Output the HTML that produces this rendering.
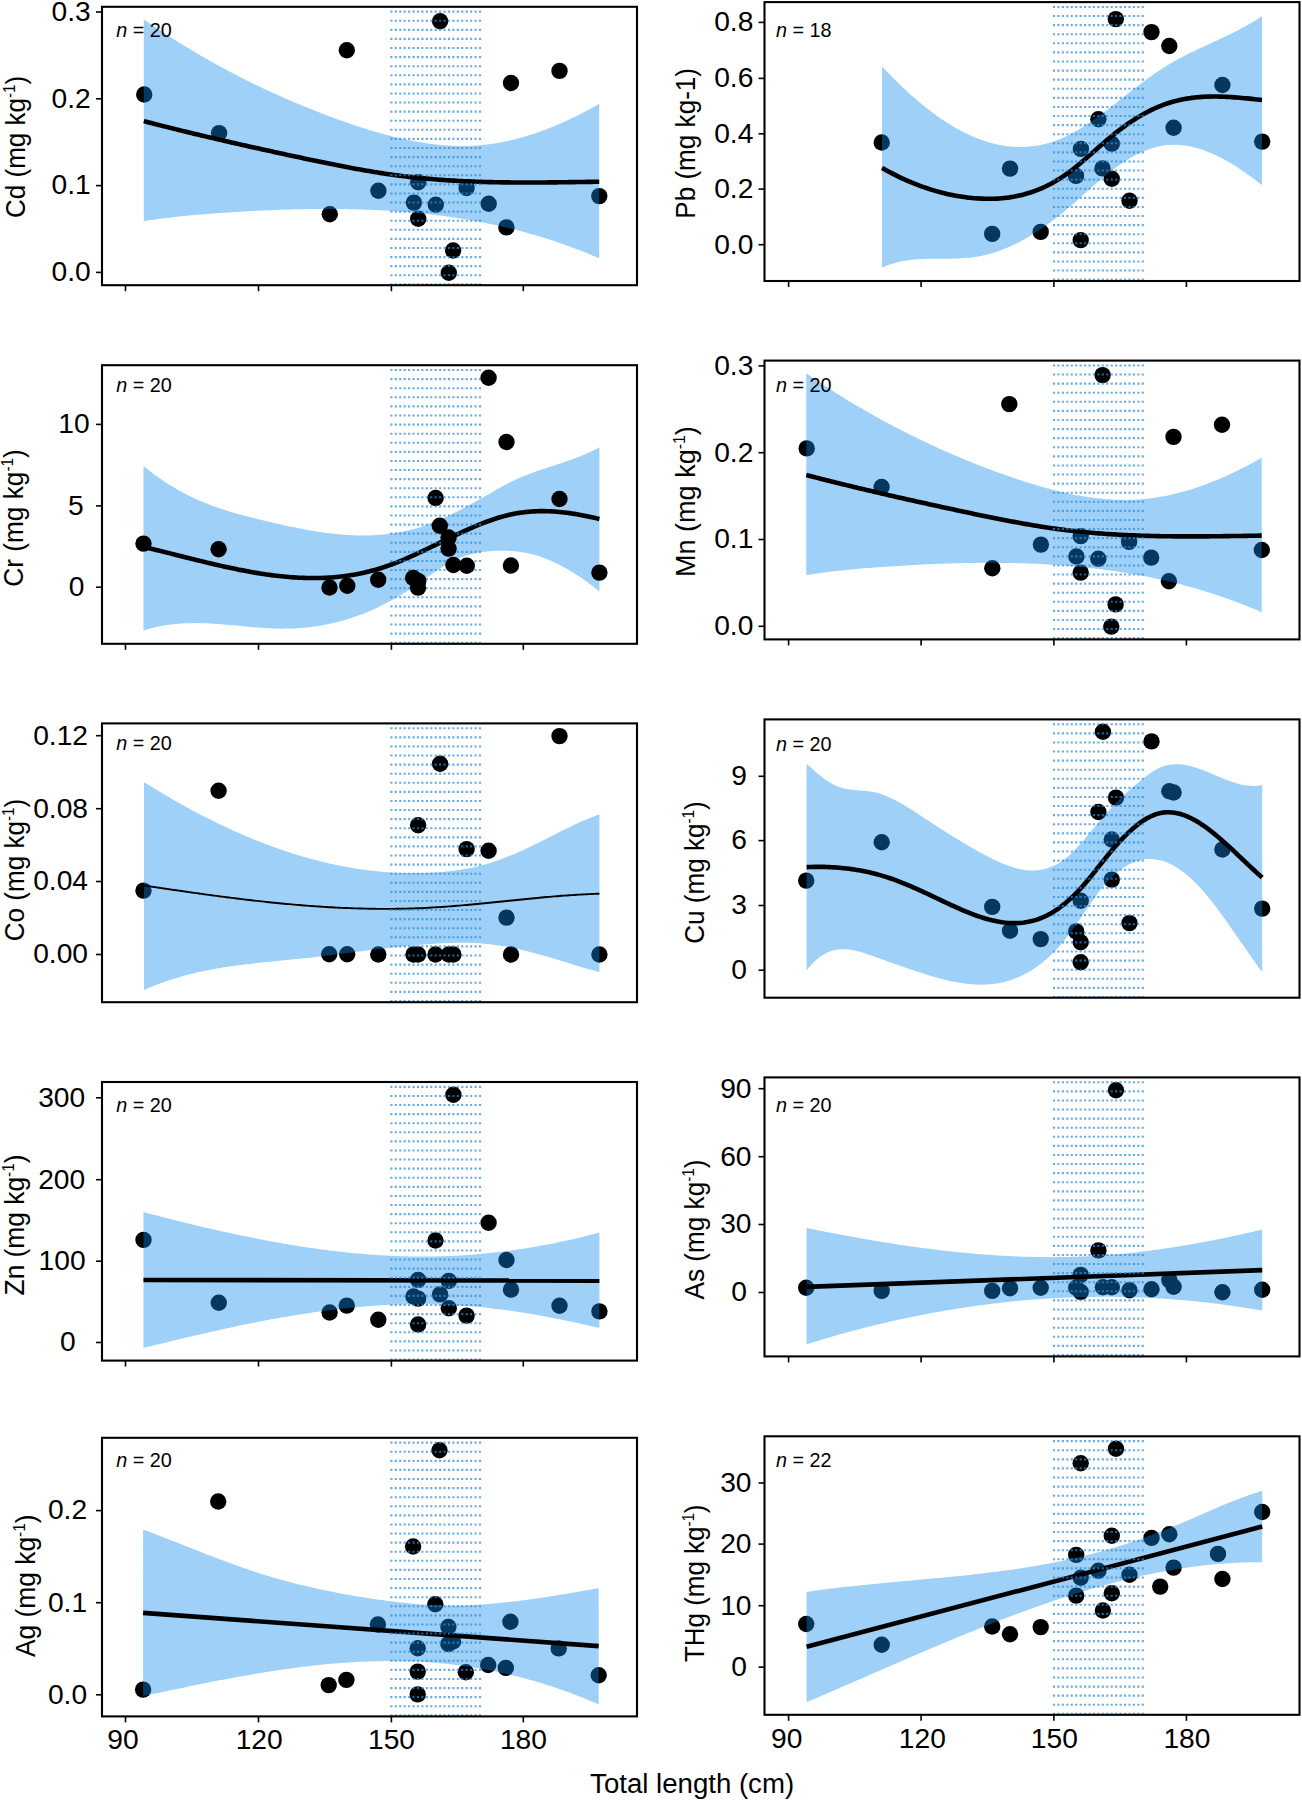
<!DOCTYPE html>
<html><head><meta charset="utf-8"><title>Metal concentrations vs total length</title>
<style>html,body{margin:0;padding:0;background:#fff;}svg{display:block;}text{font-family:'Liberation Sans', sans-serif;fill:#000;}</style></head><body>
<svg width="1302" height="1801" viewBox="0 0 1302 1801">
<rect width="1302" height="1801" fill="#fff"/>
<g>
<clipPath id="cCd"><rect x="102.00" y="5.60" width="535.00" height="280.80"/></clipPath>
<g clip-path="url(#cCd)">
<g fill="#000"><circle cx="144.20" cy="94.50" r="8.20"/><circle cx="219.10" cy="133.10" r="8.20"/><circle cx="346.80" cy="50.20" r="8.20"/><circle cx="329.80" cy="214.30" r="8.20"/><circle cx="378.40" cy="190.70" r="8.20"/><circle cx="418.20" cy="182.20" r="8.20"/><circle cx="413.90" cy="202.60" r="8.20"/><circle cx="435.80" cy="204.80" r="8.20"/><circle cx="418.20" cy="218.70" r="8.20"/><circle cx="440.10" cy="21.20" r="8.20"/><circle cx="466.60" cy="188.00" r="8.20"/><circle cx="488.70" cy="203.70" r="8.20"/><circle cx="453.10" cy="250.50" r="8.20"/><circle cx="448.80" cy="272.70" r="8.20"/><circle cx="511.00" cy="83.00" r="8.20"/><circle cx="506.40" cy="227.40" r="8.20"/><circle cx="559.50" cy="70.90" r="8.20"/><circle cx="599.30" cy="196.10" r="8.20"/></g>
<path d="M143.80,19.41 L146.30,21.13 L148.80,22.84 L151.31,24.54 L153.81,26.23 L156.31,27.90 L158.81,29.56 L161.32,31.21 L163.82,32.84 L166.32,34.47 L168.82,36.08 L171.32,37.67 L173.83,39.26 L176.33,40.83 L178.83,42.40 L181.33,43.95 L183.84,45.48 L186.34,47.01 L188.84,48.52 L191.34,50.03 L193.84,51.52 L196.35,53.00 L198.85,54.46 L201.35,55.92 L203.85,57.36 L206.35,58.80 L208.86,60.22 L211.36,61.63 L213.86,63.03 L216.36,64.41 L218.87,65.79 L221.37,67.16 L223.87,68.51 L226.37,69.85 L228.87,71.19 L231.38,72.51 L233.88,73.82 L236.38,75.12 L238.88,76.41 L241.39,77.69 L243.89,78.95 L246.39,80.21 L248.89,81.46 L251.39,82.69 L253.90,83.92 L256.40,85.13 L258.90,86.34 L261.40,87.53 L263.91,88.72 L266.41,89.89 L268.91,91.06 L271.41,92.21 L273.91,93.36 L276.42,94.49 L278.92,95.62 L281.42,96.73 L283.92,97.84 L286.43,98.93 L288.93,100.02 L291.43,101.09 L293.93,102.16 L296.43,103.22 L298.94,104.27 L301.44,105.30 L303.94,106.33 L306.44,107.35 L308.95,108.36 L311.45,109.37 L313.95,110.36 L316.45,111.34 L318.95,112.32 L321.46,113.28 L323.96,114.24 L326.46,115.19 L328.96,116.13 L331.46,117.06 L333.97,117.98 L336.47,118.89 L338.97,119.80 L341.47,120.69 L343.98,121.58 L346.48,122.46 L348.98,123.33 L351.48,124.19 L353.98,125.04 L356.49,125.88 L358.99,126.70 L361.49,127.52 L363.99,128.32 L366.50,129.11 L369.00,129.89 L371.50,130.66 L374.00,131.41 L376.50,132.15 L379.01,132.87 L381.51,133.58 L384.01,134.27 L386.51,134.95 L389.02,135.61 L391.52,136.26 L394.02,136.88 L396.52,137.50 L399.02,138.09 L401.53,138.66 L404.03,139.22 L406.53,139.76 L409.03,140.28 L411.54,140.78 L414.04,141.26 L416.54,141.71 L419.04,142.15 L421.54,142.57 L424.05,142.96 L426.55,143.33 L429.05,143.68 L431.55,144.01 L434.05,144.31 L436.56,144.59 L439.06,144.85 L441.56,145.08 L444.06,145.29 L446.57,145.47 L449.07,145.62 L451.57,145.75 L454.07,145.85 L456.57,145.92 L459.08,145.97 L461.58,145.99 L464.08,145.98 L466.58,145.94 L469.09,145.88 L471.59,145.78 L474.09,145.66 L476.59,145.50 L479.09,145.31 L481.60,145.09 L484.10,144.84 L486.60,144.56 L489.10,144.25 L491.61,143.91 L494.11,143.54 L496.61,143.14 L499.11,142.70 L501.61,142.24 L504.12,141.75 L506.62,141.23 L509.12,140.69 L511.62,140.11 L514.13,139.50 L516.63,138.87 L519.13,138.21 L521.63,137.52 L524.13,136.80 L526.64,136.06 L529.14,135.29 L531.64,134.50 L534.14,133.67 L536.65,132.83 L539.15,131.95 L541.65,131.05 L544.15,130.13 L546.65,129.18 L549.16,128.20 L551.66,127.20 L554.16,126.18 L556.66,125.13 L559.16,124.06 L561.67,122.96 L564.17,121.84 L566.67,120.70 L569.17,119.54 L571.68,118.35 L574.18,117.14 L576.68,115.91 L579.18,114.65 L581.68,113.38 L584.19,112.08 L586.69,110.77 L589.19,109.43 L591.69,108.07 L594.20,106.69 L596.70,105.29 L599.20,103.87 L599.20,258.34 L596.70,257.26 L594.20,256.19 L591.69,255.13 L589.19,254.10 L586.69,253.07 L584.19,252.07 L581.68,251.07 L579.18,250.09 L576.68,249.13 L574.18,248.18 L571.68,247.24 L569.17,246.32 L566.67,245.41 L564.17,244.52 L561.67,243.64 L559.16,242.77 L556.66,241.92 L554.16,241.08 L551.66,240.26 L549.16,239.45 L546.65,238.65 L544.15,237.86 L541.65,237.09 L539.15,236.33 L536.65,235.59 L534.14,234.85 L531.64,234.13 L529.14,233.42 L526.64,232.73 L524.13,232.04 L521.63,231.37 L519.13,230.71 L516.63,230.07 L514.13,229.43 L511.62,228.81 L509.12,228.20 L506.62,227.60 L504.12,227.01 L501.61,226.43 L499.11,225.87 L496.61,225.32 L494.11,224.77 L491.61,224.24 L489.10,223.72 L486.60,223.21 L484.10,222.71 L481.60,222.22 L479.09,221.75 L476.59,221.28 L474.09,220.82 L471.59,220.38 L469.09,219.94 L466.58,219.52 L464.08,219.10 L461.58,218.69 L459.08,218.30 L456.57,217.91 L454.07,217.53 L451.57,217.17 L449.07,216.81 L446.57,216.46 L444.06,216.12 L441.56,215.79 L439.06,215.47 L436.56,215.15 L434.05,214.85 L431.55,214.55 L429.05,214.27 L426.55,213.99 L424.05,213.72 L421.54,213.46 L419.04,213.20 L416.54,212.96 L414.04,212.72 L411.54,212.49 L409.03,212.27 L406.53,212.06 L404.03,211.85 L401.53,211.65 L399.02,211.46 L396.52,211.28 L394.02,211.10 L391.52,210.94 L389.02,210.78 L386.51,210.62 L384.01,210.47 L381.51,210.33 L379.01,210.20 L376.50,210.08 L374.00,209.96 L371.50,209.85 L369.00,209.74 L366.50,209.64 L363.99,209.55 L361.49,209.46 L358.99,209.38 L356.49,209.31 L353.98,209.25 L351.48,209.19 L348.98,209.13 L346.48,209.08 L343.98,209.04 L341.47,209.01 L338.97,208.98 L336.47,208.95 L333.97,208.93 L331.46,208.92 L328.96,208.91 L326.46,208.91 L323.96,208.91 L321.46,208.92 L318.95,208.94 L316.45,208.96 L313.95,208.98 L311.45,209.01 L308.95,209.05 L306.44,209.09 L303.94,209.13 L301.44,209.18 L298.94,209.24 L296.43,209.30 L293.93,209.36 L291.43,209.43 L288.93,209.50 L286.43,209.58 L283.92,209.66 L281.42,209.75 L278.92,209.84 L276.42,209.93 L273.91,210.03 L271.41,210.13 L268.91,210.24 L266.41,210.35 L263.91,210.46 L261.40,210.58 L258.90,210.70 L256.40,210.83 L253.90,210.95 L251.39,211.09 L248.89,211.22 L246.39,211.36 L243.89,211.50 L241.39,211.65 L238.88,211.79 L236.38,211.94 L233.88,212.10 L231.38,212.25 L228.87,212.41 L226.37,212.58 L223.87,212.74 L221.37,212.91 L218.87,213.09 L216.36,213.26 L213.86,213.44 L211.36,213.63 L208.86,213.82 L206.35,214.02 L203.85,214.22 L201.35,214.42 L198.85,214.63 L196.35,214.85 L193.84,215.07 L191.34,215.30 L188.84,215.54 L186.34,215.78 L183.84,216.03 L181.33,216.29 L178.83,216.55 L176.33,216.82 L173.83,217.10 L171.32,217.39 L168.82,217.68 L166.32,217.98 L163.82,218.30 L161.32,218.62 L158.81,218.95 L156.31,219.29 L153.81,219.63 L151.31,219.99 L148.80,220.36 L146.30,220.74 L143.80,221.13 Z" fill="rgb(13,138,238)" fill-opacity="0.400"/>
<path d="M143.80,121.14 L146.30,121.79 L148.80,122.43 L151.31,123.08 L153.81,123.72 L156.31,124.36 L158.81,125.00 L161.32,125.63 L163.82,126.26 L166.32,126.89 L168.82,127.52 L171.32,128.14 L173.83,128.76 L176.33,129.38 L178.83,130.00 L181.33,130.61 L183.84,131.22 L186.34,131.83 L188.84,132.44 L191.34,133.04 L193.84,133.64 L196.35,134.24 L198.85,134.84 L201.35,135.44 L203.85,136.03 L206.35,136.62 L208.86,137.21 L211.36,137.80 L213.86,138.38 L216.36,138.97 L218.87,139.55 L221.37,140.13 L223.87,140.71 L226.37,141.28 L228.87,141.86 L231.38,142.43 L233.88,143.00 L236.38,143.57 L238.88,144.13 L241.39,144.70 L243.89,145.26 L246.39,145.82 L248.89,146.39 L251.39,146.94 L253.90,147.50 L256.40,148.06 L258.90,148.61 L261.40,149.17 L263.91,149.72 L266.41,150.27 L268.91,150.82 L271.41,151.37 L273.91,151.92 L276.42,152.46 L278.92,153.01 L281.42,153.55 L283.92,154.09 L286.43,154.63 L288.93,155.17 L291.43,155.71 L293.93,156.25 L296.43,156.79 L298.94,157.33 L301.44,157.86 L303.94,158.39 L306.44,158.92 L308.95,159.45 L311.45,159.98 L313.95,160.50 L316.45,161.02 L318.95,161.54 L321.46,162.06 L323.96,162.57 L326.46,163.08 L328.96,163.59 L331.46,164.09 L333.97,164.59 L336.47,165.09 L338.97,165.58 L341.47,166.07 L343.98,166.55 L346.48,167.03 L348.98,167.50 L351.48,167.97 L353.98,168.44 L356.49,168.90 L358.99,169.35 L361.49,169.80 L363.99,170.24 L366.50,170.68 L369.00,171.10 L371.50,171.53 L374.00,171.94 L376.50,172.35 L379.01,172.75 L381.51,173.14 L384.01,173.52 L386.51,173.90 L389.02,174.26 L391.52,174.62 L394.02,174.97 L396.52,175.31 L399.02,175.63 L401.53,175.95 L404.03,176.26 L406.53,176.56 L409.03,176.85 L411.54,177.13 L414.04,177.41 L416.54,177.67 L419.04,177.93 L421.54,178.17 L424.05,178.41 L426.55,178.64 L429.05,178.86 L431.55,179.08 L434.05,179.28 L436.56,179.48 L439.06,179.67 L441.56,179.86 L444.06,180.03 L446.57,180.20 L449.07,180.36 L451.57,180.52 L454.07,180.66 L456.57,180.81 L459.08,180.94 L461.58,181.07 L464.08,181.19 L466.58,181.30 L469.09,181.41 L471.59,181.52 L474.09,181.61 L476.59,181.70 L479.09,181.79 L481.60,181.87 L484.10,181.94 L486.60,182.01 L489.10,182.08 L491.61,182.14 L494.11,182.19 L496.61,182.24 L499.11,182.29 L501.61,182.33 L504.12,182.36 L506.62,182.40 L509.12,182.42 L511.62,182.45 L514.13,182.47 L516.63,182.48 L519.13,182.50 L521.63,182.50 L524.13,182.51 L526.64,182.51 L529.14,182.51 L531.64,182.51 L534.14,182.50 L536.65,182.49 L539.15,182.48 L541.65,182.46 L544.15,182.45 L546.65,182.43 L549.16,182.41 L551.66,182.38 L554.16,182.36 L556.66,182.33 L559.16,182.30 L561.67,182.27 L564.17,182.24 L566.67,182.21 L569.17,182.17 L571.68,182.14 L574.18,182.10 L576.68,182.07 L579.18,182.03 L581.68,181.99 L584.19,181.95 L586.69,181.92 L589.19,181.88 L591.69,181.84 L594.20,181.80 L596.70,181.76 L599.20,181.72" fill="none" stroke="#000" stroke-width="4.60" stroke-linejoin="round"/>
<g stroke="rgb(40,140,225)" stroke-opacity="0.72" stroke-width="2.10" stroke-dasharray="2.10 2.33"><line x1="390.35" y1="11.65" x2="481.06" y2="11.65"/><line x1="390.35" y1="20.74" x2="481.06" y2="20.74"/><line x1="390.35" y1="29.83" x2="481.06" y2="29.83"/><line x1="390.35" y1="38.92" x2="481.06" y2="38.92"/><line x1="390.35" y1="48.01" x2="481.06" y2="48.01"/><line x1="390.35" y1="57.10" x2="481.06" y2="57.10"/><line x1="390.35" y1="66.19" x2="481.06" y2="66.19"/><line x1="390.35" y1="75.28" x2="481.06" y2="75.28"/><line x1="390.35" y1="84.37" x2="481.06" y2="84.37"/><line x1="390.35" y1="93.46" x2="481.06" y2="93.46"/><line x1="390.35" y1="102.55" x2="481.06" y2="102.55"/><line x1="390.35" y1="111.64" x2="481.06" y2="111.64"/><line x1="390.35" y1="120.73" x2="481.06" y2="120.73"/><line x1="390.35" y1="129.82" x2="481.06" y2="129.82"/><line x1="390.35" y1="138.91" x2="481.06" y2="138.91"/><line x1="390.35" y1="148.00" x2="481.06" y2="148.00"/><line x1="390.35" y1="157.09" x2="481.06" y2="157.09"/><line x1="390.35" y1="166.18" x2="481.06" y2="166.18"/><line x1="390.35" y1="175.27" x2="481.06" y2="175.27"/><line x1="390.35" y1="184.36" x2="481.06" y2="184.36"/><line x1="390.35" y1="193.45" x2="481.06" y2="193.45"/><line x1="390.35" y1="202.54" x2="481.06" y2="202.54"/><line x1="390.35" y1="211.63" x2="481.06" y2="211.63"/><line x1="390.35" y1="220.72" x2="481.06" y2="220.72"/><line x1="390.35" y1="229.81" x2="481.06" y2="229.81"/><line x1="390.35" y1="238.90" x2="481.06" y2="238.90"/><line x1="390.35" y1="247.99" x2="481.06" y2="247.99"/><line x1="390.35" y1="257.08" x2="481.06" y2="257.08"/><line x1="390.35" y1="266.17" x2="481.06" y2="266.17"/><line x1="390.35" y1="275.26" x2="481.06" y2="275.26"/><line x1="390.35" y1="284.35" x2="481.06" y2="284.35"/></g>
</g>
<rect x="102.00" y="6.80" width="535.00" height="278.40" fill="none" stroke="#000" stroke-width="2.10"/>
<g stroke="#000" stroke-width="1.6"><line x1="96.00" y1="12.00" x2="102.00" y2="12.00"/><line x1="96.00" y1="98.80" x2="102.00" y2="98.80"/><line x1="96.00" y1="185.60" x2="102.00" y2="185.60"/><line x1="96.00" y1="272.40" x2="102.00" y2="272.40"/><line x1="125.50" y1="285.20" x2="125.50" y2="291.20"/><line x1="258.50" y1="285.20" x2="258.50" y2="291.20"/><line x1="391.40" y1="285.20" x2="391.40" y2="291.20"/><line x1="523.30" y1="285.20" x2="523.30" y2="291.20"/></g>
<text x="71.20" y="20.80" font-size="28.20" text-anchor="middle">0.3</text>
<text x="71.20" y="107.60" font-size="28.20" text-anchor="middle">0.2</text>
<text x="71.20" y="194.40" font-size="28.20" text-anchor="middle">0.1</text>
<text x="71.20" y="281.20" font-size="28.20" text-anchor="middle">0.0</text>
<text transform="translate(25.00,146.95) rotate(-90)" x="0" y="0" font-size="27.00" text-anchor="middle" textLength="142.0" lengthAdjust="spacingAndGlyphs">Cd (mg kg<tspan font-size="15.7" dy="-10">-1</tspan><tspan dy="10">)</tspan></text>
<text x="116.20" y="36.90" font-size="19.80"><tspan font-style="italic">n</tspan> = 20</text>
</g>
<g>
<clipPath id="cPb"><rect x="764.50" y="0.90" width="535.00" height="281.30"/></clipPath>
<g clip-path="url(#cPb)">
<g fill="#000"><circle cx="881.70" cy="142.50" r="8.20"/><circle cx="1010.00" cy="168.60" r="8.20"/><circle cx="992.20" cy="233.90" r="8.20"/><circle cx="1040.70" cy="231.90" r="8.20"/><circle cx="1080.70" cy="240.10" r="8.20"/><circle cx="1080.90" cy="148.90" r="8.20"/><circle cx="1076.00" cy="175.90" r="8.20"/><circle cx="1098.40" cy="119.20" r="8.20"/><circle cx="1111.80" cy="143.70" r="8.20"/><circle cx="1102.50" cy="168.40" r="8.20"/><circle cx="1111.80" cy="178.80" r="8.20"/><circle cx="1115.80" cy="19.10" r="8.20"/><circle cx="1129.50" cy="200.70" r="8.20"/><circle cx="1151.50" cy="32.10" r="8.20"/><circle cx="1169.30" cy="46.00" r="8.20"/><circle cx="1173.60" cy="127.70" r="8.20"/><circle cx="1222.40" cy="85.00" r="8.20"/><circle cx="1262.20" cy="141.60" r="8.20"/></g>
<path d="M882.00,66.44 L884.50,69.10 L887.00,71.72 L889.50,74.31 L892.00,76.86 L894.50,79.38 L897.00,81.85 L899.50,84.29 L902.00,86.69 L904.50,89.04 L907.00,91.36 L909.50,93.64 L912.00,95.88 L914.50,98.08 L917.00,100.23 L919.50,102.34 L922.00,104.41 L924.50,106.44 L927.00,108.42 L929.50,110.36 L932.00,112.26 L934.50,114.11 L937.00,115.91 L939.50,117.67 L942.00,119.38 L944.50,121.05 L947.00,122.67 L949.50,124.24 L952.00,125.76 L954.50,127.24 L957.00,128.66 L959.50,130.04 L962.00,131.36 L964.50,132.64 L967.00,133.86 L969.50,135.03 L972.00,136.16 L974.50,137.23 L977.00,138.24 L979.50,139.21 L982.00,140.12 L984.50,140.97 L987.00,141.77 L989.50,142.52 L992.00,143.21 L994.50,143.85 L997.00,144.42 L999.50,144.95 L1002.00,145.41 L1004.50,145.82 L1007.00,146.17 L1009.50,146.46 L1012.00,146.69 L1014.50,146.86 L1017.00,146.97 L1019.50,147.02 L1022.00,147.01 L1024.50,146.94 L1027.00,146.81 L1029.50,146.62 L1032.00,146.36 L1034.50,146.04 L1037.00,145.65 L1039.50,145.20 L1042.00,144.69 L1044.50,144.11 L1047.00,143.47 L1049.50,142.76 L1052.00,141.98 L1054.50,141.14 L1057.00,140.23 L1059.50,139.25 L1062.00,138.21 L1064.50,137.09 L1067.00,135.91 L1069.50,134.66 L1072.00,133.35 L1074.50,131.97 L1077.00,130.54 L1079.50,129.05 L1082.00,127.51 L1084.50,125.92 L1087.00,124.29 L1089.50,122.61 L1092.00,120.90 L1094.50,119.14 L1097.00,117.35 L1099.50,115.53 L1102.00,113.69 L1104.50,111.82 L1107.00,109.92 L1109.50,108.01 L1112.00,106.08 L1114.50,104.14 L1117.00,102.18 L1119.50,100.22 L1122.00,98.26 L1124.50,96.29 L1127.00,94.33 L1129.50,92.37 L1132.00,90.42 L1134.50,88.48 L1137.00,86.56 L1139.50,84.65 L1142.00,82.76 L1144.50,80.89 L1147.00,79.05 L1149.50,77.24 L1152.00,75.45 L1154.50,73.71 L1157.00,72.00 L1159.50,70.33 L1162.00,68.71 L1164.50,67.13 L1167.00,65.59 L1169.50,64.10 L1172.00,62.64 L1174.50,61.22 L1177.00,59.84 L1179.50,58.49 L1182.00,57.16 L1184.50,55.87 L1187.00,54.60 L1189.50,53.35 L1192.00,52.12 L1194.50,50.91 L1197.00,49.72 L1199.50,48.53 L1202.00,47.36 L1204.50,46.20 L1207.00,45.04 L1209.50,43.88 L1212.00,42.73 L1214.50,41.58 L1217.00,40.42 L1219.50,39.25 L1222.00,38.08 L1224.50,36.90 L1227.00,35.70 L1229.50,34.49 L1232.00,33.26 L1234.50,32.01 L1237.00,30.73 L1239.50,29.43 L1242.00,28.11 L1244.50,26.75 L1247.00,25.36 L1249.50,23.94 L1252.00,22.48 L1254.50,20.98 L1257.00,19.44 L1259.50,17.86 L1262.00,16.23 L1262.00,185.16 L1259.50,183.20 L1257.00,181.27 L1254.50,179.37 L1252.00,177.50 L1249.50,175.67 L1247.00,173.88 L1244.50,172.12 L1242.00,170.41 L1239.50,168.73 L1237.00,167.10 L1234.50,165.51 L1232.00,163.97 L1229.50,162.47 L1227.00,161.03 L1224.50,159.63 L1222.00,158.29 L1219.50,157.00 L1217.00,155.77 L1214.50,154.59 L1212.00,153.47 L1209.50,152.41 L1207.00,151.41 L1204.50,150.48 L1202.00,149.61 L1199.50,148.81 L1197.00,148.07 L1194.50,147.40 L1192.00,146.81 L1189.50,146.29 L1187.00,145.84 L1184.50,145.47 L1182.00,145.17 L1179.50,144.96 L1177.00,144.82 L1174.50,144.77 L1172.00,144.80 L1169.50,144.91 L1167.00,145.11 L1164.50,145.40 L1162.00,145.78 L1159.50,146.26 L1157.00,146.82 L1154.50,147.47 L1152.00,148.20 L1149.50,149.02 L1147.00,149.93 L1144.50,150.92 L1142.00,151.98 L1139.50,153.13 L1137.00,154.35 L1134.50,155.64 L1132.00,157.01 L1129.50,158.45 L1127.00,159.96 L1124.50,161.53 L1122.00,163.18 L1119.50,164.88 L1117.00,166.65 L1114.50,168.49 L1112.00,170.38 L1109.50,172.32 L1107.00,174.32 L1104.50,176.36 L1102.00,178.45 L1099.50,180.57 L1097.00,182.72 L1094.50,184.89 L1092.00,187.09 L1089.50,189.31 L1087.00,191.53 L1084.50,193.76 L1082.00,195.99 L1079.50,198.22 L1077.00,200.44 L1074.50,202.64 L1072.00,204.82 L1069.50,206.98 L1067.00,209.12 L1064.50,211.21 L1062.00,213.27 L1059.50,215.30 L1057.00,217.28 L1054.50,219.22 L1052.00,221.12 L1049.50,222.98 L1047.00,224.80 L1044.50,226.58 L1042.00,228.32 L1039.50,230.01 L1037.00,231.66 L1034.50,233.26 L1032.00,234.82 L1029.50,236.34 L1027.00,237.81 L1024.50,239.23 L1022.00,240.60 L1019.50,241.93 L1017.00,243.21 L1014.50,244.44 L1012.00,245.62 L1009.50,246.76 L1007.00,247.84 L1004.50,248.87 L1002.00,249.85 L999.50,250.78 L997.00,251.65 L994.50,252.48 L992.00,253.25 L989.50,253.96 L987.00,254.62 L984.50,255.23 L982.00,255.78 L979.50,256.27 L977.00,256.71 L974.50,257.09 L972.00,257.41 L969.50,257.69 L967.00,257.93 L964.50,258.12 L962.00,258.28 L959.50,258.40 L957.00,258.50 L954.50,258.57 L952.00,258.62 L949.50,258.65 L947.00,258.67 L944.50,258.68 L942.00,258.69 L939.50,258.69 L937.00,258.70 L934.50,258.71 L932.00,258.74 L929.50,258.78 L927.00,258.84 L924.50,258.92 L922.00,259.02 L919.50,259.16 L917.00,259.33 L914.50,259.54 L912.00,259.79 L909.50,260.09 L907.00,260.44 L904.50,260.85 L902.00,261.31 L899.50,261.83 L897.00,262.42 L894.50,263.08 L892.00,263.81 L889.50,264.62 L887.00,265.52 L884.50,266.49 L882.00,267.56 Z" fill="rgb(13,138,238)" fill-opacity="0.400"/>
<path d="M882.00,167.94 L884.50,169.35 L887.00,170.73 L889.50,172.07 L892.00,173.39 L894.50,174.66 L897.00,175.91 L899.50,177.12 L902.00,178.31 L904.50,179.45 L907.00,180.57 L909.50,181.65 L912.00,182.70 L914.50,183.71 L917.00,184.70 L919.50,185.65 L922.00,186.56 L924.50,187.45 L927.00,188.30 L929.50,189.11 L932.00,189.90 L934.50,190.65 L937.00,191.37 L939.50,192.05 L942.00,192.71 L944.50,193.33 L947.00,193.91 L949.50,194.47 L952.00,194.99 L954.50,195.47 L957.00,195.93 L959.50,196.35 L962.00,196.73 L964.50,197.09 L967.00,197.41 L969.50,197.70 L972.00,197.95 L974.50,198.17 L977.00,198.36 L979.50,198.52 L982.00,198.64 L984.50,198.72 L987.00,198.77 L989.50,198.78 L992.00,198.76 L994.50,198.69 L997.00,198.58 L999.50,198.43 L1002.00,198.23 L1004.50,197.99 L1007.00,197.70 L1009.50,197.37 L1012.00,196.98 L1014.50,196.55 L1017.00,196.06 L1019.50,195.52 L1022.00,194.93 L1024.50,194.29 L1027.00,193.58 L1029.50,192.82 L1032.00,192.00 L1034.50,191.12 L1037.00,190.18 L1039.50,189.18 L1042.00,188.12 L1044.50,186.99 L1047.00,185.79 L1049.50,184.53 L1052.00,183.20 L1054.50,181.79 L1057.00,180.32 L1059.50,178.78 L1062.00,177.16 L1064.50,175.47 L1067.00,173.70 L1069.50,171.86 L1072.00,169.96 L1074.50,168.00 L1077.00,165.99 L1079.50,163.93 L1082.00,161.83 L1084.50,159.70 L1087.00,157.54 L1089.50,155.37 L1092.00,153.18 L1094.50,150.98 L1097.00,148.78 L1099.50,146.59 L1102.00,144.41 L1104.50,142.24 L1107.00,140.11 L1109.50,138.00 L1112.00,135.93 L1114.50,133.90 L1117.00,131.92 L1119.50,129.99 L1122.00,128.11 L1124.50,126.28 L1127.00,124.49 L1129.50,122.76 L1132.00,121.09 L1134.50,119.46 L1137.00,117.89 L1139.50,116.37 L1142.00,114.91 L1144.50,113.51 L1147.00,112.16 L1149.50,110.87 L1152.00,109.64 L1154.50,108.47 L1157.00,107.36 L1159.50,106.31 L1162.00,105.32 L1164.50,104.39 L1167.00,103.53 L1169.50,102.72 L1172.00,101.97 L1174.50,101.28 L1177.00,100.64 L1179.50,100.06 L1182.00,99.53 L1184.50,99.04 L1187.00,98.61 L1189.50,98.22 L1192.00,97.87 L1194.50,97.57 L1197.00,97.31 L1199.50,97.09 L1202.00,96.91 L1204.50,96.77 L1207.00,96.66 L1209.50,96.58 L1212.00,96.54 L1214.50,96.53 L1217.00,96.55 L1219.50,96.59 L1222.00,96.66 L1224.50,96.75 L1227.00,96.87 L1229.50,97.01 L1232.00,97.16 L1234.50,97.34 L1237.00,97.52 L1239.50,97.73 L1242.00,97.95 L1244.50,98.17 L1247.00,98.41 L1249.50,98.66 L1252.00,98.91 L1254.50,99.17 L1257.00,99.43 L1259.50,99.69 L1262.00,99.95" fill="none" stroke="#000" stroke-width="4.60" stroke-linejoin="round"/>
<g stroke="rgb(40,140,225)" stroke-opacity="0.72" stroke-width="2.10" stroke-dasharray="2.10 2.34"><line x1="1052.95" y1="6.95" x2="1143.86" y2="6.95"/><line x1="1052.95" y1="16.04" x2="1143.86" y2="16.04"/><line x1="1052.95" y1="25.13" x2="1143.86" y2="25.13"/><line x1="1052.95" y1="34.22" x2="1143.86" y2="34.22"/><line x1="1052.95" y1="43.31" x2="1143.86" y2="43.31"/><line x1="1052.95" y1="52.40" x2="1143.86" y2="52.40"/><line x1="1052.95" y1="61.49" x2="1143.86" y2="61.49"/><line x1="1052.95" y1="70.58" x2="1143.86" y2="70.58"/><line x1="1052.95" y1="79.67" x2="1143.86" y2="79.67"/><line x1="1052.95" y1="88.76" x2="1143.86" y2="88.76"/><line x1="1052.95" y1="97.85" x2="1143.86" y2="97.85"/><line x1="1052.95" y1="106.94" x2="1143.86" y2="106.94"/><line x1="1052.95" y1="116.03" x2="1143.86" y2="116.03"/><line x1="1052.95" y1="125.12" x2="1143.86" y2="125.12"/><line x1="1052.95" y1="134.21" x2="1143.86" y2="134.21"/><line x1="1052.95" y1="143.30" x2="1143.86" y2="143.30"/><line x1="1052.95" y1="152.39" x2="1143.86" y2="152.39"/><line x1="1052.95" y1="161.48" x2="1143.86" y2="161.48"/><line x1="1052.95" y1="170.57" x2="1143.86" y2="170.57"/><line x1="1052.95" y1="179.66" x2="1143.86" y2="179.66"/><line x1="1052.95" y1="188.75" x2="1143.86" y2="188.75"/><line x1="1052.95" y1="197.84" x2="1143.86" y2="197.84"/><line x1="1052.95" y1="206.93" x2="1143.86" y2="206.93"/><line x1="1052.95" y1="216.02" x2="1143.86" y2="216.02"/><line x1="1052.95" y1="225.11" x2="1143.86" y2="225.11"/><line x1="1052.95" y1="234.20" x2="1143.86" y2="234.20"/><line x1="1052.95" y1="243.29" x2="1143.86" y2="243.29"/><line x1="1052.95" y1="252.38" x2="1143.86" y2="252.38"/><line x1="1052.95" y1="261.47" x2="1143.86" y2="261.47"/><line x1="1052.95" y1="270.56" x2="1143.86" y2="270.56"/><line x1="1052.95" y1="279.65" x2="1143.86" y2="279.65"/></g>
</g>
<rect x="764.50" y="2.10" width="535.00" height="278.90" fill="none" stroke="#000" stroke-width="2.10"/>
<g stroke="#000" stroke-width="1.6"><line x1="758.50" y1="22.40" x2="764.50" y2="22.40"/><line x1="758.50" y1="78.40" x2="764.50" y2="78.40"/><line x1="758.50" y1="133.80" x2="764.50" y2="133.80"/><line x1="758.50" y1="189.10" x2="764.50" y2="189.10"/><line x1="758.50" y1="244.70" x2="764.50" y2="244.70"/><line x1="788.60" y1="281.00" x2="788.60" y2="287.00"/><line x1="921.10" y1="281.00" x2="921.10" y2="287.00"/><line x1="1053.90" y1="281.00" x2="1053.90" y2="287.00"/><line x1="1186.40" y1="281.00" x2="1186.40" y2="287.00"/></g>
<text x="733.75" y="31.20" font-size="28.20" text-anchor="middle">0.8</text>
<text x="733.75" y="87.20" font-size="28.20" text-anchor="middle">0.6</text>
<text x="733.75" y="142.60" font-size="28.20" text-anchor="middle">0.4</text>
<text x="733.75" y="197.90" font-size="28.20" text-anchor="middle">0.2</text>
<text x="733.75" y="253.50" font-size="28.20" text-anchor="middle">0.0</text>
<text transform="translate(695.20,143.35) rotate(-90)" x="0" y="0" font-size="27.00" text-anchor="middle" textLength="150.8" lengthAdjust="spacingAndGlyphs">Pb (mg kg-1)</text>
<text x="776.00" y="36.90" font-size="19.80"><tspan font-style="italic">n</tspan> = 18</text>
</g>
<g>
<clipPath id="cCr"><rect x="102.00" y="364.00" width="535.00" height="281.00"/></clipPath>
<g clip-path="url(#cCr)">
<path d="M143.50,465.96 L146.00,468.04 L148.51,470.06 L151.01,472.02 L153.52,473.93 L156.02,475.79 L158.53,477.59 L161.03,479.34 L163.54,481.04 L166.04,482.69 L168.55,484.29 L171.05,485.85 L173.56,487.36 L176.06,488.82 L178.57,490.24 L181.07,491.62 L183.58,492.96 L186.08,494.26 L188.59,495.51 L191.09,496.73 L193.60,497.91 L196.10,499.06 L198.61,500.17 L201.11,501.25 L203.62,502.30 L206.12,503.31 L208.63,504.29 L211.13,505.25 L213.64,506.17 L216.14,507.07 L218.65,507.95 L221.15,508.80 L223.66,509.62 L226.16,510.43 L228.67,511.21 L231.17,511.97 L233.68,512.71 L236.18,513.44 L238.69,514.14 L241.19,514.84 L243.70,515.51 L246.20,516.18 L248.71,516.83 L251.21,517.47 L253.72,518.10 L256.22,518.72 L258.73,519.33 L261.23,519.94 L263.74,520.54 L266.24,521.14 L268.75,521.73 L271.25,522.32 L273.76,522.90 L276.26,523.48 L278.77,524.05 L281.27,524.62 L283.78,525.17 L286.28,525.72 L288.79,526.26 L291.29,526.80 L293.80,527.32 L296.30,527.83 L298.81,528.33 L301.31,528.82 L303.82,529.30 L306.32,529.76 L308.83,530.21 L311.33,530.65 L313.84,531.07 L316.34,531.48 L318.85,531.87 L321.35,532.24 L323.86,532.60 L326.36,532.94 L328.87,533.26 L331.37,533.57 L333.88,533.85 L336.38,534.11 L338.89,534.35 L341.39,534.57 L343.90,534.77 L346.40,534.95 L348.91,535.10 L351.41,535.23 L353.92,535.33 L356.42,535.41 L358.93,535.46 L361.43,535.49 L363.94,535.49 L366.44,535.46 L368.95,535.41 L371.45,535.32 L373.95,535.21 L376.46,535.06 L378.96,534.89 L381.47,534.68 L383.97,534.44 L386.48,534.17 L388.98,533.87 L391.49,533.53 L393.99,533.16 L396.50,532.76 L399.00,532.31 L401.51,531.84 L404.01,531.32 L406.52,530.77 L409.02,530.18 L411.53,529.55 L414.03,528.88 L416.54,528.18 L419.04,527.43 L421.55,526.64 L424.05,525.81 L426.56,524.94 L429.06,524.02 L431.57,523.07 L434.07,522.09 L436.58,521.06 L439.08,520.01 L441.59,518.92 L444.09,517.80 L446.60,516.64 L449.10,515.47 L451.61,514.26 L454.11,513.03 L456.62,511.77 L459.12,510.49 L461.63,509.19 L464.13,507.87 L466.64,506.53 L469.14,505.18 L471.65,503.81 L474.15,502.42 L476.66,501.02 L479.16,499.62 L481.67,498.20 L484.17,496.77 L486.68,495.34 L489.18,493.90 L491.69,492.47 L494.19,491.04 L496.70,489.62 L499.20,488.22 L501.71,486.84 L504.21,485.48 L506.72,484.15 L509.22,482.86 L511.73,481.60 L514.23,480.38 L516.74,479.21 L519.24,478.09 L521.75,477.00 L524.25,475.96 L526.76,474.96 L529.26,473.99 L531.77,473.05 L534.27,472.13 L536.78,471.24 L539.28,470.37 L541.79,469.52 L544.29,468.68 L546.80,467.85 L549.30,467.03 L551.81,466.22 L554.31,465.40 L556.82,464.59 L559.32,463.77 L561.83,462.94 L564.33,462.10 L566.84,461.24 L569.34,460.37 L571.85,459.47 L574.35,458.56 L576.86,457.61 L579.36,456.63 L581.87,455.62 L584.37,454.57 L586.88,453.48 L589.38,452.35 L591.89,451.17 L594.39,449.94 L596.90,448.66 L599.40,447.32 L599.40,591.44 L596.90,589.44 L594.39,587.48 L591.89,585.56 L589.38,583.69 L586.88,581.85 L584.37,580.06 L581.87,578.31 L579.36,576.61 L576.86,574.95 L574.35,573.34 L571.85,571.78 L569.34,570.26 L566.84,568.80 L564.33,567.39 L561.83,566.03 L559.32,564.73 L556.82,563.47 L554.31,562.28 L551.81,561.14 L549.30,560.06 L546.80,559.04 L544.29,558.07 L541.79,557.17 L539.28,556.33 L536.78,555.55 L534.27,554.84 L531.77,554.19 L529.26,553.60 L526.76,553.07 L524.25,552.59 L521.75,552.18 L519.24,551.82 L516.74,551.51 L514.23,551.25 L511.73,551.05 L509.22,550.89 L506.72,550.78 L504.21,550.71 L501.71,550.69 L499.20,550.71 L496.70,550.77 L494.19,550.87 L491.69,551.01 L489.18,551.19 L486.68,551.41 L484.17,551.69 L481.67,552.03 L479.16,552.42 L476.66,552.87 L474.15,553.40 L471.65,553.99 L469.14,554.66 L466.64,555.41 L464.13,556.24 L461.63,557.16 L459.12,558.16 L456.62,559.27 L454.11,560.46 L451.61,561.74 L449.10,563.10 L446.60,564.52 L444.09,566.01 L441.59,567.56 L439.08,569.16 L436.58,570.80 L434.07,572.48 L431.57,574.19 L429.06,575.92 L426.56,577.67 L424.05,579.42 L421.55,581.18 L419.04,582.93 L416.54,584.68 L414.03,586.40 L411.53,588.10 L409.02,589.76 L406.52,591.39 L404.01,592.98 L401.51,594.53 L399.00,596.05 L396.50,597.52 L393.99,598.96 L391.49,600.36 L388.98,601.73 L386.48,603.06 L383.97,604.35 L381.47,605.60 L378.96,606.82 L376.46,608.01 L373.95,609.15 L371.45,610.26 L368.95,611.34 L366.44,612.38 L363.94,613.39 L361.43,614.36 L358.93,615.30 L356.42,616.21 L353.92,617.08 L351.41,617.91 L348.91,618.72 L346.40,619.49 L343.90,620.23 L341.39,620.93 L338.89,621.60 L336.38,622.24 L333.88,622.85 L331.37,623.43 L328.87,623.97 L326.36,624.49 L323.86,624.97 L321.35,625.42 L318.85,625.84 L316.34,626.23 L313.84,626.59 L311.33,626.92 L308.83,627.22 L306.32,627.49 L303.82,627.73 L301.31,627.95 L298.81,628.13 L296.30,628.29 L293.80,628.41 L291.29,628.51 L288.79,628.58 L286.28,628.62 L283.78,628.64 L281.27,628.63 L278.77,628.59 L276.26,628.53 L273.76,628.45 L271.25,628.35 L268.75,628.23 L266.24,628.09 L263.74,627.94 L261.23,627.77 L258.73,627.59 L256.22,627.39 L253.72,627.19 L251.21,626.98 L248.71,626.76 L246.20,626.53 L243.70,626.30 L241.19,626.07 L238.69,625.84 L236.18,625.60 L233.68,625.37 L231.17,625.14 L228.67,624.92 L226.16,624.70 L223.66,624.49 L221.15,624.29 L218.65,624.10 L216.14,623.92 L213.64,623.76 L211.13,623.61 L208.63,623.47 L206.12,623.36 L203.62,623.26 L201.11,623.19 L198.61,623.13 L196.10,623.11 L193.60,623.10 L191.09,623.13 L188.59,623.18 L186.08,623.26 L183.58,623.37 L181.07,623.52 L178.57,623.70 L176.06,623.91 L173.56,624.17 L171.05,624.46 L168.55,624.79 L166.04,625.16 L163.54,625.58 L161.03,626.04 L158.53,626.55 L156.02,627.10 L153.52,627.70 L151.01,628.36 L148.51,629.06 L146.00,629.82 L143.50,630.64 Z" fill="rgb(13,138,238)" fill-opacity="0.400"/>
<path d="M143.50,546.88 L146.00,547.47 L148.51,548.07 L151.01,548.68 L153.52,549.28 L156.02,549.90 L158.53,550.51 L161.03,551.13 L163.54,551.76 L166.04,552.38 L168.55,553.01 L171.05,553.64 L173.56,554.27 L176.06,554.90 L178.57,555.53 L181.07,556.16 L183.58,556.79 L186.08,557.42 L188.59,558.04 L191.09,558.67 L193.60,559.29 L196.10,559.91 L198.61,560.53 L201.11,561.14 L203.62,561.75 L206.12,562.36 L208.63,562.96 L211.13,563.56 L213.64,564.15 L216.14,564.73 L218.65,565.31 L221.15,565.88 L223.66,566.44 L226.16,566.99 L228.67,567.54 L231.17,568.08 L233.68,568.60 L236.18,569.12 L238.69,569.63 L241.19,570.13 L243.70,570.61 L246.20,571.09 L248.71,571.55 L251.21,572.01 L253.72,572.44 L256.22,572.87 L258.73,573.28 L261.23,573.68 L263.74,574.06 L266.24,574.43 L268.75,574.79 L271.25,575.13 L273.76,575.45 L276.26,575.75 L278.77,576.04 L281.27,576.31 L283.78,576.57 L286.28,576.80 L288.79,577.02 L291.29,577.22 L293.80,577.39 L296.30,577.55 L298.81,577.69 L301.31,577.80 L303.82,577.90 L306.32,577.97 L308.83,578.02 L311.33,578.05 L313.84,578.06 L316.34,578.04 L318.85,578.00 L321.35,577.93 L323.86,577.84 L326.36,577.73 L328.87,577.59 L331.37,577.42 L333.88,577.22 L336.38,577.00 L338.89,576.76 L341.39,576.48 L343.90,576.18 L346.40,575.84 L348.91,575.48 L351.41,575.09 L353.92,574.67 L356.42,574.22 L358.93,573.74 L361.43,573.22 L363.94,572.68 L366.44,572.10 L368.95,571.49 L371.45,570.85 L373.95,570.18 L376.46,569.47 L378.96,568.73 L381.47,567.95 L383.97,567.14 L386.48,566.29 L388.98,565.41 L391.49,564.50 L393.99,563.56 L396.50,562.58 L399.00,561.58 L401.51,560.55 L404.01,559.50 L406.52,558.43 L409.02,557.33 L411.53,556.22 L414.03,555.08 L416.54,553.93 L419.04,552.77 L421.55,551.59 L424.05,550.41 L426.56,549.21 L429.06,548.00 L431.57,546.79 L434.07,545.57 L436.58,544.35 L439.08,543.13 L441.59,541.91 L444.09,540.69 L446.60,539.47 L449.10,538.26 L451.61,537.05 L454.11,535.85 L456.62,534.67 L459.12,533.49 L461.63,532.32 L464.13,531.18 L466.64,530.04 L469.14,528.93 L471.65,527.83 L474.15,526.76 L476.66,525.71 L479.16,524.68 L481.67,523.68 L484.17,522.70 L486.68,521.76 L489.18,520.85 L491.69,519.97 L494.19,519.12 L496.70,518.31 L499.20,517.53 L501.71,516.80 L504.21,516.11 L506.72,515.45 L509.22,514.85 L511.73,514.28 L514.23,513.77 L516.74,513.30 L519.24,512.88 L521.75,512.51 L524.25,512.19 L526.76,511.91 L529.26,511.68 L531.77,511.49 L534.27,511.34 L536.78,511.23 L539.28,511.16 L541.79,511.14 L544.29,511.15 L546.80,511.20 L549.30,511.28 L551.81,511.40 L554.31,511.56 L556.82,511.74 L559.32,511.96 L561.83,512.21 L564.33,512.49 L566.84,512.80 L569.34,513.14 L571.85,513.50 L574.35,513.89 L576.86,514.30 L579.36,514.74 L581.87,515.20 L584.37,515.68 L586.88,516.18 L589.38,516.70 L591.89,517.24 L594.39,517.80 L596.90,518.37 L599.40,518.96" fill="none" stroke="#000" stroke-width="4.60" stroke-linejoin="round"/>
<g stroke="rgb(40,140,225)" stroke-opacity="0.72" stroke-width="2.10" stroke-dasharray="2.10 2.33"><line x1="390.35" y1="370.05" x2="481.06" y2="370.05"/><line x1="390.35" y1="379.14" x2="481.06" y2="379.14"/><line x1="390.35" y1="388.23" x2="481.06" y2="388.23"/><line x1="390.35" y1="397.32" x2="481.06" y2="397.32"/><line x1="390.35" y1="406.41" x2="481.06" y2="406.41"/><line x1="390.35" y1="415.50" x2="481.06" y2="415.50"/><line x1="390.35" y1="424.59" x2="481.06" y2="424.59"/><line x1="390.35" y1="433.68" x2="481.06" y2="433.68"/><line x1="390.35" y1="442.77" x2="481.06" y2="442.77"/><line x1="390.35" y1="451.86" x2="481.06" y2="451.86"/><line x1="390.35" y1="460.95" x2="481.06" y2="460.95"/><line x1="390.35" y1="470.04" x2="481.06" y2="470.04"/><line x1="390.35" y1="479.13" x2="481.06" y2="479.13"/><line x1="390.35" y1="488.22" x2="481.06" y2="488.22"/><line x1="390.35" y1="497.31" x2="481.06" y2="497.31"/><line x1="390.35" y1="506.40" x2="481.06" y2="506.40"/><line x1="390.35" y1="515.49" x2="481.06" y2="515.49"/><line x1="390.35" y1="524.58" x2="481.06" y2="524.58"/><line x1="390.35" y1="533.67" x2="481.06" y2="533.67"/><line x1="390.35" y1="542.76" x2="481.06" y2="542.76"/><line x1="390.35" y1="551.85" x2="481.06" y2="551.85"/><line x1="390.35" y1="560.94" x2="481.06" y2="560.94"/><line x1="390.35" y1="570.03" x2="481.06" y2="570.03"/><line x1="390.35" y1="579.12" x2="481.06" y2="579.12"/><line x1="390.35" y1="588.21" x2="481.06" y2="588.21"/><line x1="390.35" y1="597.30" x2="481.06" y2="597.30"/><line x1="390.35" y1="606.39" x2="481.06" y2="606.39"/><line x1="390.35" y1="615.48" x2="481.06" y2="615.48"/><line x1="390.35" y1="624.57" x2="481.06" y2="624.57"/><line x1="390.35" y1="633.66" x2="481.06" y2="633.66"/><line x1="390.35" y1="642.75" x2="481.06" y2="642.75"/></g>
<g fill="#000"><circle cx="143.50" cy="543.60" r="8.20"/><circle cx="218.60" cy="549.20" r="8.20"/><circle cx="329.50" cy="587.50" r="8.20"/><circle cx="347.30" cy="585.70" r="8.20"/><circle cx="378.20" cy="579.80" r="8.20"/><circle cx="413.20" cy="578.00" r="8.20"/><circle cx="418.30" cy="581.00" r="8.20"/><circle cx="418.00" cy="587.60" r="8.20"/><circle cx="435.60" cy="498.00" r="8.20"/><circle cx="439.80" cy="525.80" r="8.20"/><circle cx="448.60" cy="537.50" r="8.20"/><circle cx="448.60" cy="548.60" r="8.20"/><circle cx="453.40" cy="565.00" r="8.20"/><circle cx="466.80" cy="565.70" r="8.20"/><circle cx="488.60" cy="377.70" r="8.20"/><circle cx="506.50" cy="442.00" r="8.20"/><circle cx="510.90" cy="565.50" r="8.20"/><circle cx="559.50" cy="499.00" r="8.20"/><circle cx="599.40" cy="572.60" r="8.20"/></g>
<clipPath id="dCr435"><circle cx="435.60" cy="498.00" r="8.20"/></clipPath>
<g clip-path="url(#dCr435)"><g stroke="rgb(40,140,225)" stroke-opacity="0.72" stroke-width="2.10" stroke-dasharray="2.10 2.33"><line x1="390.35" y1="370.05" x2="481.06" y2="370.05"/><line x1="390.35" y1="379.14" x2="481.06" y2="379.14"/><line x1="390.35" y1="388.23" x2="481.06" y2="388.23"/><line x1="390.35" y1="397.32" x2="481.06" y2="397.32"/><line x1="390.35" y1="406.41" x2="481.06" y2="406.41"/><line x1="390.35" y1="415.50" x2="481.06" y2="415.50"/><line x1="390.35" y1="424.59" x2="481.06" y2="424.59"/><line x1="390.35" y1="433.68" x2="481.06" y2="433.68"/><line x1="390.35" y1="442.77" x2="481.06" y2="442.77"/><line x1="390.35" y1="451.86" x2="481.06" y2="451.86"/><line x1="390.35" y1="460.95" x2="481.06" y2="460.95"/><line x1="390.35" y1="470.04" x2="481.06" y2="470.04"/><line x1="390.35" y1="479.13" x2="481.06" y2="479.13"/><line x1="390.35" y1="488.22" x2="481.06" y2="488.22"/><line x1="390.35" y1="497.31" x2="481.06" y2="497.31"/><line x1="390.35" y1="506.40" x2="481.06" y2="506.40"/><line x1="390.35" y1="515.49" x2="481.06" y2="515.49"/><line x1="390.35" y1="524.58" x2="481.06" y2="524.58"/><line x1="390.35" y1="533.67" x2="481.06" y2="533.67"/><line x1="390.35" y1="542.76" x2="481.06" y2="542.76"/><line x1="390.35" y1="551.85" x2="481.06" y2="551.85"/><line x1="390.35" y1="560.94" x2="481.06" y2="560.94"/><line x1="390.35" y1="570.03" x2="481.06" y2="570.03"/><line x1="390.35" y1="579.12" x2="481.06" y2="579.12"/><line x1="390.35" y1="588.21" x2="481.06" y2="588.21"/><line x1="390.35" y1="597.30" x2="481.06" y2="597.30"/><line x1="390.35" y1="606.39" x2="481.06" y2="606.39"/><line x1="390.35" y1="615.48" x2="481.06" y2="615.48"/><line x1="390.35" y1="624.57" x2="481.06" y2="624.57"/><line x1="390.35" y1="633.66" x2="481.06" y2="633.66"/><line x1="390.35" y1="642.75" x2="481.06" y2="642.75"/></g></g>
</g>
<rect x="102.00" y="365.20" width="535.00" height="278.60" fill="none" stroke="#000" stroke-width="2.10"/>
<g stroke="#000" stroke-width="1.6"><line x1="96.00" y1="424.40" x2="102.00" y2="424.40"/><line x1="96.00" y1="505.90" x2="102.00" y2="505.90"/><line x1="96.00" y1="587.20" x2="102.00" y2="587.20"/><line x1="125.50" y1="643.80" x2="125.50" y2="649.80"/><line x1="258.50" y1="643.80" x2="258.50" y2="649.80"/><line x1="391.40" y1="643.80" x2="391.40" y2="649.80"/><line x1="523.30" y1="643.80" x2="523.30" y2="649.80"/></g>
<text x="73.90" y="433.20" font-size="28.20" text-anchor="middle">10</text>
<text x="75.95" y="514.70" font-size="28.20" text-anchor="middle">5</text>
<text x="76.50" y="596.00" font-size="28.20" text-anchor="middle">0</text>
<text transform="translate(23.00,518.00) rotate(-90)" x="0" y="0" font-size="27.00" text-anchor="middle" textLength="137.5" lengthAdjust="spacingAndGlyphs">Cr (mg kg<tspan font-size="15.7" dy="-10">-1</tspan><tspan dy="10">)</tspan></text>
<text x="116.20" y="391.80" font-size="19.80"><tspan font-style="italic">n</tspan> = 20</text>
</g>
<g>
<clipPath id="cMn"><rect x="764.50" y="359.40" width="535.00" height="281.20"/></clipPath>
<g clip-path="url(#cMn)">
<g fill="#000"><circle cx="806.70" cy="448.40" r="8.20"/><circle cx="881.60" cy="487.00" r="8.20"/><circle cx="1009.30" cy="404.10" r="8.20"/><circle cx="992.30" cy="568.20" r="8.20"/><circle cx="1040.90" cy="544.60" r="8.20"/><circle cx="1080.70" cy="536.10" r="8.20"/><circle cx="1076.40" cy="556.50" r="8.20"/><circle cx="1098.30" cy="558.70" r="8.20"/><circle cx="1080.70" cy="572.60" r="8.20"/><circle cx="1102.60" cy="375.10" r="8.20"/><circle cx="1129.10" cy="541.90" r="8.20"/><circle cx="1151.20" cy="557.60" r="8.20"/><circle cx="1115.60" cy="604.40" r="8.20"/><circle cx="1111.30" cy="626.60" r="8.20"/><circle cx="1173.50" cy="436.90" r="8.20"/><circle cx="1168.90" cy="581.30" r="8.20"/><circle cx="1222.00" cy="424.80" r="8.20"/><circle cx="1261.80" cy="550.00" r="8.20"/></g>
<path d="M806.30,373.31 L808.80,375.03 L811.30,376.74 L813.81,378.44 L816.31,380.13 L818.81,381.80 L821.31,383.46 L823.82,385.11 L826.32,386.74 L828.82,388.37 L831.32,389.98 L833.82,391.57 L836.33,393.16 L838.83,394.73 L841.33,396.30 L843.83,397.85 L846.34,399.38 L848.84,400.91 L851.34,402.42 L853.84,403.93 L856.34,405.42 L858.85,406.90 L861.35,408.36 L863.85,409.82 L866.35,411.26 L868.85,412.70 L871.36,414.12 L873.86,415.53 L876.36,416.93 L878.86,418.31 L881.37,419.69 L883.87,421.06 L886.37,422.41 L888.87,423.75 L891.37,425.09 L893.88,426.41 L896.38,427.72 L898.88,429.02 L901.38,430.31 L903.89,431.59 L906.39,432.85 L908.89,434.11 L911.39,435.36 L913.89,436.59 L916.40,437.82 L918.90,439.03 L921.40,440.24 L923.90,441.43 L926.41,442.62 L928.91,443.79 L931.41,444.96 L933.91,446.11 L936.41,447.26 L938.92,448.39 L941.42,449.52 L943.92,450.63 L946.42,451.74 L948.93,452.83 L951.43,453.92 L953.93,454.99 L956.43,456.06 L958.93,457.12 L961.44,458.17 L963.94,459.20 L966.44,460.23 L968.94,461.25 L971.45,462.26 L973.95,463.27 L976.45,464.26 L978.95,465.24 L981.45,466.22 L983.96,467.18 L986.46,468.14 L988.96,469.09 L991.46,470.03 L993.96,470.96 L996.47,471.88 L998.97,472.79 L1001.47,473.70 L1003.97,474.59 L1006.48,475.48 L1008.98,476.36 L1011.48,477.23 L1013.98,478.09 L1016.48,478.94 L1018.99,479.78 L1021.49,480.60 L1023.99,481.42 L1026.49,482.22 L1029.00,483.01 L1031.50,483.79 L1034.00,484.56 L1036.50,485.31 L1039.00,486.05 L1041.51,486.77 L1044.01,487.48 L1046.51,488.17 L1049.01,488.85 L1051.52,489.51 L1054.02,490.16 L1056.52,490.78 L1059.02,491.40 L1061.52,491.99 L1064.03,492.56 L1066.53,493.12 L1069.03,493.66 L1071.53,494.18 L1074.04,494.68 L1076.54,495.16 L1079.04,495.61 L1081.54,496.05 L1084.04,496.47 L1086.55,496.86 L1089.05,497.23 L1091.55,497.58 L1094.05,497.91 L1096.55,498.21 L1099.06,498.49 L1101.56,498.75 L1104.06,498.98 L1106.56,499.19 L1109.07,499.37 L1111.57,499.52 L1114.07,499.65 L1116.57,499.75 L1119.07,499.82 L1121.58,499.87 L1124.08,499.89 L1126.58,499.88 L1129.08,499.84 L1131.59,499.78 L1134.09,499.68 L1136.59,499.56 L1139.09,499.40 L1141.59,499.21 L1144.10,498.99 L1146.60,498.74 L1149.10,498.46 L1151.60,498.15 L1154.11,497.81 L1156.61,497.44 L1159.11,497.04 L1161.61,496.60 L1164.11,496.14 L1166.62,495.65 L1169.12,495.13 L1171.62,494.59 L1174.12,494.01 L1176.63,493.40 L1179.13,492.77 L1181.63,492.11 L1184.13,491.42 L1186.63,490.70 L1189.14,489.96 L1191.64,489.19 L1194.14,488.40 L1196.64,487.57 L1199.15,486.73 L1201.65,485.85 L1204.15,484.95 L1206.65,484.03 L1209.15,483.08 L1211.66,482.10 L1214.16,481.10 L1216.66,480.08 L1219.16,479.03 L1221.66,477.96 L1224.17,476.86 L1226.67,475.74 L1229.17,474.60 L1231.67,473.44 L1234.18,472.25 L1236.68,471.04 L1239.18,469.81 L1241.68,468.55 L1244.18,467.28 L1246.69,465.98 L1249.19,464.67 L1251.69,463.33 L1254.19,461.97 L1256.70,460.59 L1259.20,459.19 L1261.70,457.77 L1261.70,612.24 L1259.20,611.16 L1256.70,610.09 L1254.19,609.03 L1251.69,608.00 L1249.19,606.97 L1246.69,605.97 L1244.18,604.97 L1241.68,603.99 L1239.18,603.03 L1236.68,602.08 L1234.18,601.14 L1231.67,600.22 L1229.17,599.31 L1226.67,598.42 L1224.17,597.54 L1221.66,596.67 L1219.16,595.82 L1216.66,594.98 L1214.16,594.16 L1211.66,593.35 L1209.15,592.55 L1206.65,591.76 L1204.15,590.99 L1201.65,590.23 L1199.15,589.49 L1196.64,588.75 L1194.14,588.03 L1191.64,587.32 L1189.14,586.63 L1186.63,585.94 L1184.13,585.27 L1181.63,584.61 L1179.13,583.97 L1176.63,583.33 L1174.12,582.71 L1171.62,582.10 L1169.12,581.50 L1166.62,580.91 L1164.11,580.33 L1161.61,579.77 L1159.11,579.22 L1156.61,578.67 L1154.11,578.14 L1151.60,577.62 L1149.10,577.11 L1146.60,576.61 L1144.10,576.12 L1141.59,575.65 L1139.09,575.18 L1136.59,574.72 L1134.09,574.28 L1131.59,573.84 L1129.08,573.42 L1126.58,573.00 L1124.08,572.59 L1121.58,572.20 L1119.07,571.81 L1116.57,571.43 L1114.07,571.07 L1111.57,570.71 L1109.07,570.36 L1106.56,570.02 L1104.06,569.69 L1101.56,569.37 L1099.06,569.05 L1096.55,568.75 L1094.05,568.45 L1091.55,568.17 L1089.05,567.89 L1086.55,567.62 L1084.04,567.36 L1081.54,567.10 L1079.04,566.86 L1076.54,566.62 L1074.04,566.39 L1071.53,566.17 L1069.03,565.96 L1066.53,565.75 L1064.03,565.55 L1061.52,565.36 L1059.02,565.18 L1056.52,565.00 L1054.02,564.84 L1051.52,564.68 L1049.01,564.52 L1046.51,564.37 L1044.01,564.23 L1041.51,564.10 L1039.00,563.98 L1036.50,563.86 L1034.00,563.75 L1031.50,563.64 L1029.00,563.54 L1026.49,563.45 L1023.99,563.36 L1021.49,563.28 L1018.99,563.21 L1016.48,563.15 L1013.98,563.09 L1011.48,563.03 L1008.98,562.98 L1006.48,562.94 L1003.97,562.91 L1001.47,562.88 L998.97,562.85 L996.47,562.83 L993.96,562.82 L991.46,562.81 L988.96,562.81 L986.46,562.81 L983.96,562.82 L981.45,562.84 L978.95,562.86 L976.45,562.88 L973.95,562.91 L971.45,562.95 L968.94,562.99 L966.44,563.03 L963.94,563.08 L961.44,563.14 L958.93,563.20 L956.43,563.26 L953.93,563.33 L951.43,563.40 L948.93,563.48 L946.42,563.56 L943.92,563.65 L941.42,563.74 L938.92,563.83 L936.41,563.93 L933.91,564.03 L931.41,564.14 L928.91,564.25 L926.41,564.36 L923.90,564.48 L921.40,564.60 L918.90,564.73 L916.40,564.85 L913.89,564.99 L911.39,565.12 L908.89,565.26 L906.39,565.40 L903.89,565.55 L901.38,565.69 L898.88,565.84 L896.38,566.00 L893.88,566.15 L891.37,566.31 L888.87,566.48 L886.37,566.64 L883.87,566.81 L881.37,566.99 L878.86,567.16 L876.36,567.34 L873.86,567.53 L871.36,567.72 L868.85,567.92 L866.35,568.12 L863.85,568.32 L861.35,568.53 L858.85,568.75 L856.34,568.97 L853.84,569.20 L851.34,569.44 L848.84,569.68 L846.34,569.93 L843.83,570.19 L841.33,570.45 L838.83,570.72 L836.33,571.00 L833.82,571.29 L831.32,571.58 L828.82,571.88 L826.32,572.20 L823.82,572.52 L821.31,572.85 L818.81,573.19 L816.31,573.53 L813.81,573.89 L811.30,574.26 L808.80,574.64 L806.30,575.03 Z" fill="rgb(13,138,238)" fill-opacity="0.400"/>
<path d="M806.30,475.04 L808.80,475.69 L811.30,476.33 L813.81,476.98 L816.31,477.62 L818.81,478.26 L821.31,478.90 L823.82,479.53 L826.32,480.16 L828.82,480.79 L831.32,481.42 L833.82,482.04 L836.33,482.66 L838.83,483.28 L841.33,483.90 L843.83,484.51 L846.34,485.12 L848.84,485.73 L851.34,486.34 L853.84,486.94 L856.34,487.54 L858.85,488.14 L861.35,488.74 L863.85,489.34 L866.35,489.93 L868.85,490.52 L871.36,491.11 L873.86,491.70 L876.36,492.28 L878.86,492.87 L881.37,493.45 L883.87,494.03 L886.37,494.61 L888.87,495.18 L891.37,495.76 L893.88,496.33 L896.38,496.90 L898.88,497.47 L901.38,498.03 L903.89,498.60 L906.39,499.16 L908.89,499.72 L911.39,500.29 L913.89,500.84 L916.40,501.40 L918.90,501.96 L921.40,502.51 L923.90,503.07 L926.41,503.62 L928.91,504.17 L931.41,504.72 L933.91,505.27 L936.41,505.82 L938.92,506.36 L941.42,506.91 L943.92,507.45 L946.42,507.99 L948.93,508.53 L951.43,509.07 L953.93,509.61 L956.43,510.15 L958.93,510.69 L961.44,511.23 L963.94,511.76 L966.44,512.29 L968.94,512.82 L971.45,513.35 L973.95,513.88 L976.45,514.40 L978.95,514.92 L981.45,515.44 L983.96,515.96 L986.46,516.47 L988.96,516.98 L991.46,517.49 L993.96,517.99 L996.47,518.49 L998.97,518.99 L1001.47,519.48 L1003.97,519.97 L1006.48,520.45 L1008.98,520.93 L1011.48,521.40 L1013.98,521.87 L1016.48,522.34 L1018.99,522.80 L1021.49,523.25 L1023.99,523.70 L1026.49,524.14 L1029.00,524.58 L1031.50,525.00 L1034.00,525.43 L1036.50,525.84 L1039.00,526.25 L1041.51,526.65 L1044.01,527.04 L1046.51,527.42 L1049.01,527.80 L1051.52,528.16 L1054.02,528.52 L1056.52,528.87 L1059.02,529.21 L1061.52,529.53 L1064.03,529.85 L1066.53,530.16 L1069.03,530.46 L1071.53,530.75 L1074.04,531.03 L1076.54,531.31 L1079.04,531.57 L1081.54,531.83 L1084.04,532.07 L1086.55,532.31 L1089.05,532.54 L1091.55,532.76 L1094.05,532.98 L1096.55,533.18 L1099.06,533.38 L1101.56,533.57 L1104.06,533.76 L1106.56,533.93 L1109.07,534.10 L1111.57,534.26 L1114.07,534.42 L1116.57,534.56 L1119.07,534.71 L1121.58,534.84 L1124.08,534.97 L1126.58,535.09 L1129.08,535.20 L1131.59,535.31 L1134.09,535.42 L1136.59,535.51 L1139.09,535.60 L1141.59,535.69 L1144.10,535.77 L1146.60,535.84 L1149.10,535.91 L1151.60,535.98 L1154.11,536.04 L1156.61,536.09 L1159.11,536.14 L1161.61,536.19 L1164.11,536.23 L1166.62,536.26 L1169.12,536.30 L1171.62,536.32 L1174.12,536.35 L1176.63,536.37 L1179.13,536.38 L1181.63,536.40 L1184.13,536.40 L1186.63,536.41 L1189.14,536.41 L1191.64,536.41 L1194.14,536.41 L1196.64,536.40 L1199.15,536.39 L1201.65,536.38 L1204.15,536.36 L1206.65,536.35 L1209.15,536.33 L1211.66,536.31 L1214.16,536.28 L1216.66,536.26 L1219.16,536.23 L1221.66,536.20 L1224.17,536.17 L1226.67,536.14 L1229.17,536.11 L1231.67,536.07 L1234.18,536.04 L1236.68,536.00 L1239.18,535.97 L1241.68,535.93 L1244.18,535.89 L1246.69,535.85 L1249.19,535.82 L1251.69,535.78 L1254.19,535.74 L1256.70,535.70 L1259.20,535.66 L1261.70,535.62" fill="none" stroke="#000" stroke-width="4.60" stroke-linejoin="round"/>
<g stroke="rgb(40,140,225)" stroke-opacity="0.72" stroke-width="2.10" stroke-dasharray="2.10 2.34"><line x1="1052.95" y1="365.45" x2="1143.86" y2="365.45"/><line x1="1052.95" y1="374.54" x2="1143.86" y2="374.54"/><line x1="1052.95" y1="383.63" x2="1143.86" y2="383.63"/><line x1="1052.95" y1="392.72" x2="1143.86" y2="392.72"/><line x1="1052.95" y1="401.81" x2="1143.86" y2="401.81"/><line x1="1052.95" y1="410.90" x2="1143.86" y2="410.90"/><line x1="1052.95" y1="419.99" x2="1143.86" y2="419.99"/><line x1="1052.95" y1="429.08" x2="1143.86" y2="429.08"/><line x1="1052.95" y1="438.17" x2="1143.86" y2="438.17"/><line x1="1052.95" y1="447.26" x2="1143.86" y2="447.26"/><line x1="1052.95" y1="456.35" x2="1143.86" y2="456.35"/><line x1="1052.95" y1="465.44" x2="1143.86" y2="465.44"/><line x1="1052.95" y1="474.53" x2="1143.86" y2="474.53"/><line x1="1052.95" y1="483.62" x2="1143.86" y2="483.62"/><line x1="1052.95" y1="492.71" x2="1143.86" y2="492.71"/><line x1="1052.95" y1="501.80" x2="1143.86" y2="501.80"/><line x1="1052.95" y1="510.89" x2="1143.86" y2="510.89"/><line x1="1052.95" y1="519.98" x2="1143.86" y2="519.98"/><line x1="1052.95" y1="529.07" x2="1143.86" y2="529.07"/><line x1="1052.95" y1="538.16" x2="1143.86" y2="538.16"/><line x1="1052.95" y1="547.25" x2="1143.86" y2="547.25"/><line x1="1052.95" y1="556.34" x2="1143.86" y2="556.34"/><line x1="1052.95" y1="565.43" x2="1143.86" y2="565.43"/><line x1="1052.95" y1="574.52" x2="1143.86" y2="574.52"/><line x1="1052.95" y1="583.61" x2="1143.86" y2="583.61"/><line x1="1052.95" y1="592.70" x2="1143.86" y2="592.70"/><line x1="1052.95" y1="601.79" x2="1143.86" y2="601.79"/><line x1="1052.95" y1="610.88" x2="1143.86" y2="610.88"/><line x1="1052.95" y1="619.97" x2="1143.86" y2="619.97"/><line x1="1052.95" y1="629.06" x2="1143.86" y2="629.06"/><line x1="1052.95" y1="638.15" x2="1143.86" y2="638.15"/></g>
</g>
<rect x="764.50" y="360.60" width="535.00" height="278.80" fill="none" stroke="#000" stroke-width="2.10"/>
<g stroke="#000" stroke-width="1.6"><line x1="758.50" y1="365.90" x2="764.50" y2="365.90"/><line x1="758.50" y1="452.70" x2="764.50" y2="452.70"/><line x1="758.50" y1="539.50" x2="764.50" y2="539.50"/><line x1="758.50" y1="626.30" x2="764.50" y2="626.30"/><line x1="788.60" y1="639.40" x2="788.60" y2="645.40"/><line x1="921.10" y1="639.40" x2="921.10" y2="645.40"/><line x1="1053.90" y1="639.40" x2="1053.90" y2="645.40"/><line x1="1186.40" y1="639.40" x2="1186.40" y2="645.40"/></g>
<text x="733.75" y="374.70" font-size="28.20" text-anchor="middle">0.3</text>
<text x="733.75" y="461.50" font-size="28.20" text-anchor="middle">0.2</text>
<text x="733.75" y="548.30" font-size="28.20" text-anchor="middle">0.1</text>
<text x="733.75" y="635.10" font-size="28.20" text-anchor="middle">0.0</text>
<text transform="translate(695.20,501.65) rotate(-90)" x="0" y="0" font-size="27.00" text-anchor="middle" textLength="150.8" lengthAdjust="spacingAndGlyphs">Mn (mg kg<tspan font-size="15.7" dy="-10">-1</tspan><tspan dy="10">)</tspan></text>
<text x="776.00" y="391.90" font-size="19.80"><tspan font-style="italic">n</tspan> = 20</text>
</g>
<g>
<clipPath id="cCo"><rect x="102.00" y="722.20" width="535.00" height="281.20"/></clipPath>
<g clip-path="url(#cCo)">
<g fill="#000"><circle cx="143.50" cy="890.60" r="8.20"/><circle cx="218.60" cy="790.70" r="8.20"/><circle cx="329.20" cy="954.30" r="8.20"/><circle cx="347.20" cy="954.30" r="8.20"/><circle cx="378.30" cy="954.50" r="8.20"/><circle cx="413.50" cy="954.50" r="8.20"/><circle cx="418.10" cy="954.50" r="8.20"/><circle cx="435.50" cy="954.50" r="8.20"/><circle cx="448.80" cy="954.50" r="8.20"/><circle cx="453.40" cy="954.50" r="8.20"/><circle cx="440.10" cy="763.70" r="8.20"/><circle cx="418.10" cy="825.30" r="8.20"/><circle cx="466.60" cy="849.10" r="8.20"/><circle cx="488.60" cy="850.80" r="8.20"/><circle cx="506.50" cy="917.60" r="8.20"/><circle cx="511.00" cy="954.50" r="8.20"/><circle cx="559.50" cy="736.10" r="8.20"/><circle cx="599.40" cy="954.50" r="8.20"/></g>
<path d="M144.00,782.15 L146.50,783.71 L149.00,785.27 L151.51,786.81 L154.01,788.34 L156.51,789.86 L159.01,791.37 L161.52,792.87 L164.02,794.35 L166.52,795.83 L169.02,797.29 L171.52,798.74 L174.03,800.17 L176.53,801.60 L179.03,803.01 L181.53,804.41 L184.04,805.80 L186.54,807.18 L189.04,808.55 L191.54,809.90 L194.04,811.24 L196.55,812.57 L199.05,813.88 L201.55,815.18 L204.05,816.47 L206.55,817.75 L209.06,819.01 L211.56,820.26 L214.06,821.50 L216.56,822.73 L219.07,823.94 L221.57,825.14 L224.07,826.33 L226.57,827.50 L229.07,828.66 L231.58,829.80 L234.08,830.94 L236.58,832.06 L239.08,833.16 L241.59,834.25 L244.09,835.33 L246.59,836.40 L249.09,837.45 L251.59,838.48 L254.10,839.51 L256.60,840.52 L259.10,841.51 L261.60,842.49 L264.11,843.46 L266.61,844.41 L269.11,845.35 L271.61,846.27 L274.11,847.18 L276.62,848.08 L279.12,848.96 L281.62,849.82 L284.12,850.67 L286.63,851.51 L289.13,852.33 L291.63,853.14 L294.13,853.93 L296.63,854.70 L299.14,855.46 L301.64,856.21 L304.14,856.94 L306.64,857.66 L309.15,858.36 L311.65,859.04 L314.15,859.71 L316.65,860.37 L319.15,861.01 L321.66,861.63 L324.16,862.24 L326.66,862.83 L329.16,863.40 L331.66,863.96 L334.17,864.51 L336.67,865.04 L339.17,865.55 L341.67,866.04 L344.18,866.52 L346.68,866.99 L349.18,867.43 L351.68,867.86 L354.18,868.28 L356.69,868.67 L359.19,869.06 L361.69,869.42 L364.19,869.77 L366.70,870.10 L369.20,870.41 L371.70,870.71 L374.20,870.99 L376.70,871.25 L379.21,871.50 L381.71,871.73 L384.21,871.94 L386.71,872.14 L389.22,872.31 L391.72,872.47 L394.22,872.62 L396.72,872.74 L399.22,872.85 L401.73,872.94 L404.23,873.01 L406.73,873.06 L409.23,873.10 L411.74,873.12 L414.24,873.12 L416.74,873.10 L419.24,873.07 L421.74,873.01 L424.25,872.94 L426.75,872.85 L429.25,872.74 L431.75,872.62 L434.25,872.47 L436.76,872.31 L439.26,872.13 L441.76,871.92 L444.26,871.70 L446.77,871.46 L449.27,871.20 L451.77,870.92 L454.27,870.61 L456.77,870.27 L459.28,869.91 L461.78,869.53 L464.28,869.11 L466.78,868.67 L469.29,868.19 L471.79,867.69 L474.29,867.15 L476.79,866.58 L479.29,865.97 L481.80,865.33 L484.30,864.65 L486.80,863.94 L489.30,863.19 L491.81,862.41 L494.31,861.59 L496.81,860.75 L499.31,859.87 L501.81,858.96 L504.32,858.02 L506.82,857.05 L509.32,856.05 L511.82,855.03 L514.33,853.97 L516.83,852.90 L519.33,851.80 L521.83,850.67 L524.33,849.52 L526.84,848.35 L529.34,847.16 L531.84,845.95 L534.34,844.73 L536.85,843.49 L539.35,842.24 L541.85,840.99 L544.35,839.72 L546.85,838.46 L549.36,837.18 L551.86,835.91 L554.36,834.64 L556.86,833.38 L559.36,832.11 L561.87,830.86 L564.37,829.62 L566.87,828.39 L569.37,827.17 L571.88,825.97 L574.38,824.79 L576.88,823.62 L579.38,822.48 L581.88,821.37 L584.39,820.28 L586.89,819.22 L589.39,818.19 L591.89,817.20 L594.40,816.23 L596.90,815.31 L599.40,814.43 L599.40,972.18 L596.90,971.50 L594.40,970.80 L591.89,970.09 L589.39,969.38 L586.89,968.65 L584.39,967.91 L581.88,967.17 L579.38,966.41 L576.88,965.66 L574.38,964.90 L571.88,964.13 L569.37,963.37 L566.87,962.60 L564.37,961.84 L561.87,961.07 L559.36,960.31 L556.86,959.55 L554.36,958.80 L551.86,958.05 L549.36,957.31 L546.85,956.57 L544.35,955.85 L541.85,955.13 L539.35,954.43 L536.85,953.74 L534.34,953.06 L531.84,952.40 L529.34,951.75 L526.84,951.12 L524.33,950.51 L521.83,949.92 L519.33,949.34 L516.83,948.79 L514.33,948.26 L511.82,947.75 L509.32,947.26 L506.82,946.79 L504.32,946.35 L501.81,945.93 L499.31,945.54 L496.81,945.17 L494.31,944.82 L491.81,944.50 L489.30,944.21 L486.80,943.95 L484.30,943.71 L481.80,943.50 L479.29,943.32 L476.79,943.17 L474.29,943.04 L471.79,942.94 L469.29,942.86 L466.78,942.81 L464.28,942.78 L461.78,942.77 L459.28,942.78 L456.77,942.81 L454.27,942.86 L451.77,942.92 L449.27,943.00 L446.77,943.10 L444.26,943.20 L441.76,943.32 L439.26,943.45 L436.76,943.59 L434.25,943.75 L431.75,943.91 L429.25,944.08 L426.75,944.26 L424.25,944.44 L421.74,944.64 L419.24,944.84 L416.74,945.06 L414.24,945.28 L411.74,945.51 L409.23,945.74 L406.73,945.98 L404.23,946.23 L401.73,946.49 L399.22,946.75 L396.72,947.01 L394.22,947.28 L391.72,947.56 L389.22,947.84 L386.71,948.13 L384.21,948.42 L381.71,948.71 L379.21,949.01 L376.70,949.31 L374.20,949.62 L371.70,949.93 L369.20,950.24 L366.70,950.55 L364.19,950.86 L361.69,951.18 L359.19,951.50 L356.69,951.81 L354.18,952.13 L351.68,952.45 L349.18,952.77 L346.68,953.10 L344.18,953.42 L341.67,953.73 L339.17,954.05 L336.67,954.37 L334.17,954.69 L331.66,955.00 L329.16,955.31 L326.66,955.62 L324.16,955.93 L321.66,956.24 L319.15,956.54 L316.65,956.84 L314.15,957.13 L311.65,957.42 L309.15,957.71 L306.64,957.99 L304.14,958.26 L301.64,958.54 L299.14,958.80 L296.63,959.06 L294.13,959.32 L291.63,959.58 L289.13,959.83 L286.63,960.08 L284.12,960.32 L281.62,960.57 L279.12,960.82 L276.62,961.06 L274.11,961.31 L271.61,961.56 L269.11,961.81 L266.61,962.06 L264.11,962.31 L261.60,962.57 L259.10,962.84 L256.60,963.10 L254.10,963.38 L251.59,963.66 L249.09,963.95 L246.59,964.24 L244.09,964.54 L241.59,964.85 L239.08,965.17 L236.58,965.50 L234.08,965.84 L231.58,966.19 L229.07,966.56 L226.57,966.93 L224.07,967.32 L221.57,967.72 L219.07,968.13 L216.56,968.56 L214.06,969.01 L211.56,969.47 L209.06,969.94 L206.55,970.44 L204.05,970.95 L201.55,971.48 L199.05,972.03 L196.55,972.59 L194.04,973.18 L191.54,973.79 L189.04,974.42 L186.54,975.07 L184.04,975.74 L181.53,976.44 L179.03,977.16 L176.53,977.90 L174.03,978.67 L171.52,979.47 L169.02,980.29 L166.52,981.13 L164.02,982.01 L161.52,982.91 L159.01,983.84 L156.51,984.80 L154.01,985.79 L151.51,986.81 L149.00,987.85 L146.50,988.94 L144.00,990.05 Z" fill="rgb(13,138,238)" fill-opacity="0.400"/>
<path d="M144.00,885.44 L146.50,885.82 L149.00,886.20 L151.51,886.58 L154.01,886.96 L156.51,887.34 L159.01,887.71 L161.52,888.09 L164.02,888.46 L166.52,888.83 L169.02,889.20 L171.52,889.57 L174.03,889.94 L176.53,890.31 L179.03,890.67 L181.53,891.04 L184.04,891.40 L186.54,891.76 L189.04,892.12 L191.54,892.47 L194.04,892.83 L196.55,893.18 L199.05,893.53 L201.55,893.88 L204.05,894.22 L206.55,894.57 L209.06,894.91 L211.56,895.25 L214.06,895.58 L216.56,895.92 L219.07,896.25 L221.57,896.58 L224.07,896.90 L226.57,897.22 L229.07,897.54 L231.58,897.86 L234.08,898.17 L236.58,898.49 L239.08,898.79 L241.59,899.10 L244.09,899.40 L246.59,899.70 L249.09,899.99 L251.59,900.28 L254.10,900.57 L256.60,900.85 L259.10,901.13 L261.60,901.41 L264.11,901.68 L266.61,901.95 L269.11,902.21 L271.61,902.47 L274.11,902.73 L276.62,902.98 L279.12,903.23 L281.62,903.47 L284.12,903.71 L286.63,903.94 L289.13,904.17 L291.63,904.40 L294.13,904.62 L296.63,904.83 L299.14,905.04 L301.64,905.25 L304.14,905.45 L306.64,905.65 L309.15,905.84 L311.65,906.02 L314.15,906.20 L316.65,906.38 L319.15,906.55 L321.66,906.71 L324.16,906.87 L326.66,907.03 L329.16,907.18 L331.66,907.32 L334.17,907.45 L336.67,907.58 L339.17,907.71 L341.67,907.83 L344.18,907.94 L346.68,908.05 L349.18,908.15 L351.68,908.24 L354.18,908.33 L356.69,908.41 L359.19,908.49 L361.69,908.56 L364.19,908.62 L366.70,908.67 L369.20,908.72 L371.70,908.76 L374.20,908.80 L376.70,908.83 L379.21,908.85 L381.71,908.86 L384.21,908.87 L386.71,908.87 L389.22,908.86 L391.72,908.85 L394.22,908.83 L396.72,908.80 L399.22,908.76 L401.73,908.72 L404.23,908.66 L406.73,908.60 L409.23,908.54 L411.74,908.46 L414.24,908.38 L416.74,908.29 L419.24,908.19 L421.74,908.08 L424.25,907.96 L426.75,907.84 L429.25,907.71 L431.75,907.57 L434.25,907.42 L436.76,907.26 L439.26,907.10 L441.76,906.93 L444.26,906.76 L446.77,906.58 L449.27,906.39 L451.77,906.19 L454.27,906.00 L456.77,905.79 L459.28,905.58 L461.78,905.37 L464.28,905.15 L466.78,904.93 L469.29,904.70 L471.79,904.47 L474.29,904.23 L476.79,904.00 L479.29,903.76 L481.80,903.51 L484.30,903.27 L486.80,903.02 L489.30,902.77 L491.81,902.52 L494.31,902.26 L496.81,902.01 L499.31,901.75 L501.81,901.50 L504.32,901.24 L506.82,900.99 L509.32,900.73 L511.82,900.47 L514.33,900.22 L516.83,899.96 L519.33,899.71 L521.83,899.46 L524.33,899.21 L526.84,898.96 L529.34,898.71 L531.84,898.47 L534.34,898.23 L536.85,897.99 L539.35,897.75 L541.85,897.52 L544.35,897.29 L546.85,897.07 L549.36,896.85 L551.86,896.63 L554.36,896.42 L556.86,896.21 L559.36,896.01 L561.87,895.81 L564.37,895.62 L566.87,895.44 L569.37,895.26 L571.88,895.09 L574.38,894.93 L576.88,894.77 L579.38,894.62 L581.88,894.47 L584.39,894.34 L586.89,894.21 L589.39,894.09 L591.89,893.98 L594.40,893.88 L596.90,893.79 L599.40,893.70" fill="none" stroke="#000" stroke-width="1.90" stroke-linejoin="round"/>
<g stroke="rgb(40,140,225)" stroke-opacity="0.72" stroke-width="2.10" stroke-dasharray="2.10 2.33"><line x1="390.35" y1="728.25" x2="481.06" y2="728.25"/><line x1="390.35" y1="737.34" x2="481.06" y2="737.34"/><line x1="390.35" y1="746.43" x2="481.06" y2="746.43"/><line x1="390.35" y1="755.52" x2="481.06" y2="755.52"/><line x1="390.35" y1="764.61" x2="481.06" y2="764.61"/><line x1="390.35" y1="773.70" x2="481.06" y2="773.70"/><line x1="390.35" y1="782.79" x2="481.06" y2="782.79"/><line x1="390.35" y1="791.88" x2="481.06" y2="791.88"/><line x1="390.35" y1="800.97" x2="481.06" y2="800.97"/><line x1="390.35" y1="810.06" x2="481.06" y2="810.06"/><line x1="390.35" y1="819.15" x2="481.06" y2="819.15"/><line x1="390.35" y1="828.24" x2="481.06" y2="828.24"/><line x1="390.35" y1="837.33" x2="481.06" y2="837.33"/><line x1="390.35" y1="846.42" x2="481.06" y2="846.42"/><line x1="390.35" y1="855.51" x2="481.06" y2="855.51"/><line x1="390.35" y1="864.60" x2="481.06" y2="864.60"/><line x1="390.35" y1="873.69" x2="481.06" y2="873.69"/><line x1="390.35" y1="882.78" x2="481.06" y2="882.78"/><line x1="390.35" y1="891.87" x2="481.06" y2="891.87"/><line x1="390.35" y1="900.96" x2="481.06" y2="900.96"/><line x1="390.35" y1="910.05" x2="481.06" y2="910.05"/><line x1="390.35" y1="919.14" x2="481.06" y2="919.14"/><line x1="390.35" y1="928.23" x2="481.06" y2="928.23"/><line x1="390.35" y1="937.32" x2="481.06" y2="937.32"/><line x1="390.35" y1="946.41" x2="481.06" y2="946.41"/><line x1="390.35" y1="955.50" x2="481.06" y2="955.50"/><line x1="390.35" y1="964.59" x2="481.06" y2="964.59"/><line x1="390.35" y1="973.68" x2="481.06" y2="973.68"/><line x1="390.35" y1="982.77" x2="481.06" y2="982.77"/><line x1="390.35" y1="991.86" x2="481.06" y2="991.86"/><line x1="390.35" y1="1000.95" x2="481.06" y2="1000.95"/></g>
</g>
<rect x="102.00" y="723.40" width="535.00" height="278.80" fill="none" stroke="#000" stroke-width="2.10"/>
<g stroke="#000" stroke-width="1.6"><line x1="96.00" y1="735.70" x2="102.00" y2="735.70"/><line x1="96.00" y1="808.70" x2="102.00" y2="808.70"/><line x1="96.00" y1="881.50" x2="102.00" y2="881.50"/><line x1="96.00" y1="954.50" x2="102.00" y2="954.50"/></g>
<text x="60.60" y="744.50" font-size="28.20" text-anchor="middle">0.12</text>
<text x="60.60" y="817.50" font-size="28.20" text-anchor="middle">0.08</text>
<text x="60.60" y="890.30" font-size="28.20" text-anchor="middle">0.04</text>
<text x="60.60" y="963.30" font-size="28.20" text-anchor="middle">0.00</text>
<text transform="translate(24.30,870.00) rotate(-90)" x="0" y="0" font-size="27.00" text-anchor="middle" textLength="142.5" lengthAdjust="spacingAndGlyphs">Co (mg kg<tspan font-size="15.7" dy="-10">-1</tspan><tspan dy="10">)</tspan></text>
<text x="116.20" y="750.40" font-size="19.80"><tspan font-style="italic">n</tspan> = 20</text>
</g>
<g>
<clipPath id="cCu"><rect x="764.50" y="718.20" width="535.00" height="280.70"/></clipPath>
<g clip-path="url(#cCu)">
<g fill="#000"><circle cx="806.20" cy="880.60" r="8.20"/><circle cx="881.70" cy="842.20" r="8.20"/><circle cx="992.20" cy="906.90" r="8.20"/><circle cx="1010.00" cy="930.80" r="8.20"/><circle cx="1040.70" cy="939.10" r="8.20"/><circle cx="1076.20" cy="931.40" r="8.20"/><circle cx="1080.70" cy="942.20" r="8.20"/><circle cx="1080.70" cy="962.30" r="8.20"/><circle cx="1080.70" cy="900.70" r="8.20"/><circle cx="1098.40" cy="812.00" r="8.20"/><circle cx="1102.90" cy="731.70" r="8.20"/><circle cx="1111.80" cy="839.50" r="8.20"/><circle cx="1111.80" cy="879.60" r="8.20"/><circle cx="1116.00" cy="797.60" r="8.20"/><circle cx="1129.50" cy="923.10" r="8.20"/><circle cx="1151.50" cy="741.40" r="8.20"/><circle cx="1169.30" cy="791.20" r="8.20"/><circle cx="1173.60" cy="792.50" r="8.20"/><circle cx="1222.40" cy="849.50" r="8.20"/><circle cx="1262.20" cy="908.60" r="8.20"/></g>
<path d="M806.60,763.67 L809.10,766.00 L811.61,768.30 L814.11,770.53 L816.61,772.70 L819.12,774.79 L821.62,776.79 L824.12,778.68 L826.63,780.45 L829.13,782.08 L831.63,783.57 L834.14,784.90 L836.64,786.06 L839.14,787.04 L841.65,787.84 L844.15,788.50 L846.65,789.03 L849.16,789.45 L851.66,789.79 L854.16,790.06 L856.67,790.28 L859.17,790.48 L861.67,790.67 L864.18,790.88 L866.68,791.12 L869.18,791.42 L871.69,791.80 L874.19,792.27 L876.69,792.86 L879.20,793.55 L881.70,794.34 L884.20,795.23 L886.71,796.21 L889.21,797.28 L891.71,798.42 L894.22,799.64 L896.72,800.93 L899.22,802.27 L901.73,803.68 L904.23,805.14 L906.73,806.64 L909.24,808.18 L911.74,809.76 L914.24,811.36 L916.75,812.99 L919.25,814.64 L921.75,816.30 L924.25,817.97 L926.76,819.63 L929.26,821.30 L931.76,822.95 L934.27,824.59 L936.77,826.23 L939.27,827.85 L941.78,829.46 L944.28,831.06 L946.78,832.64 L949.29,834.22 L951.79,835.78 L954.29,837.32 L956.80,838.86 L959.30,840.37 L961.80,841.87 L964.31,843.36 L966.81,844.83 L969.31,846.28 L971.82,847.72 L974.32,849.14 L976.82,850.54 L979.33,851.92 L981.83,853.28 L984.33,854.62 L986.84,855.94 L989.34,857.24 L991.84,858.50 L994.35,859.73 L996.85,860.92 L999.35,862.07 L1001.86,863.16 L1004.36,864.20 L1006.86,865.18 L1009.37,866.09 L1011.87,866.93 L1014.37,867.70 L1016.88,868.38 L1019.38,868.98 L1021.88,869.48 L1024.39,869.89 L1026.89,870.20 L1029.39,870.41 L1031.90,870.50 L1034.40,870.47 L1036.90,870.33 L1039.41,870.05 L1041.91,869.65 L1044.41,869.11 L1046.92,868.43 L1049.42,867.60 L1051.92,866.62 L1054.43,865.49 L1056.93,864.20 L1059.43,862.74 L1061.94,861.11 L1064.44,859.31 L1066.94,857.32 L1069.45,855.16 L1071.95,852.83 L1074.45,850.35 L1076.96,847.74 L1079.46,845.01 L1081.96,842.19 L1084.47,839.29 L1086.97,836.33 L1089.47,833.33 L1091.98,830.30 L1094.48,827.26 L1096.98,824.23 L1099.49,821.23 L1101.99,818.27 L1104.49,815.37 L1107.00,812.54 L1109.50,809.79 L1112.00,807.10 L1114.51,804.48 L1117.01,801.93 L1119.51,799.43 L1122.02,797.00 L1124.52,794.62 L1127.02,792.30 L1129.53,790.03 L1132.03,787.81 L1134.53,785.63 L1137.04,783.51 L1139.54,781.42 L1142.04,779.38 L1144.55,777.39 L1147.05,775.48 L1149.55,773.66 L1152.05,771.95 L1154.56,770.39 L1157.06,768.99 L1159.56,767.77 L1162.07,766.74 L1164.57,765.91 L1167.07,765.25 L1169.58,764.76 L1172.08,764.43 L1174.58,764.26 L1177.09,764.23 L1179.59,764.33 L1182.09,764.56 L1184.60,764.91 L1187.10,765.37 L1189.60,765.92 L1192.11,766.57 L1194.61,767.29 L1197.11,768.09 L1199.62,768.96 L1202.12,769.87 L1204.62,770.84 L1207.13,771.84 L1209.63,772.87 L1212.13,773.91 L1214.64,774.97 L1217.14,776.03 L1219.64,777.08 L1222.15,778.12 L1224.65,779.13 L1227.15,780.10 L1229.66,781.03 L1232.16,781.91 L1234.66,782.73 L1237.17,783.48 L1239.67,784.15 L1242.17,784.73 L1244.68,785.22 L1247.18,785.60 L1249.68,785.87 L1252.19,786.01 L1254.69,786.02 L1257.19,785.89 L1259.70,785.61 L1262.20,785.18 L1262.20,972.16 L1259.70,968.75 L1257.19,965.29 L1254.69,961.78 L1252.19,958.25 L1249.68,954.68 L1247.18,951.09 L1244.68,947.49 L1242.17,943.87 L1239.67,940.26 L1237.17,936.64 L1234.66,933.04 L1232.16,929.45 L1229.66,925.88 L1227.15,922.35 L1224.65,918.85 L1222.15,915.39 L1219.64,911.98 L1217.14,908.62 L1214.64,905.32 L1212.13,902.09 L1209.63,898.94 L1207.13,895.87 L1204.62,892.89 L1202.12,890.00 L1199.62,887.22 L1197.11,884.56 L1194.61,882.01 L1192.11,879.58 L1189.60,877.29 L1187.10,875.12 L1184.60,873.08 L1182.09,871.17 L1179.59,869.39 L1177.09,867.75 L1174.58,866.24 L1172.08,864.87 L1169.58,863.64 L1167.07,862.55 L1164.57,861.61 L1162.07,860.81 L1159.56,860.15 L1157.06,859.64 L1154.56,859.28 L1152.05,859.08 L1149.55,859.02 L1147.05,859.11 L1144.55,859.36 L1142.04,859.76 L1139.54,860.32 L1137.04,861.03 L1134.53,861.90 L1132.03,862.93 L1129.53,864.12 L1127.02,865.47 L1124.52,866.98 L1122.02,868.65 L1119.51,870.49 L1117.01,872.49 L1114.51,874.66 L1112.00,877.00 L1109.50,879.50 L1107.00,882.17 L1104.49,885.02 L1101.99,888.03 L1099.49,891.20 L1096.98,894.51 L1094.48,897.93 L1091.98,901.44 L1089.47,905.03 L1086.97,908.67 L1084.47,912.34 L1081.96,916.01 L1079.46,919.68 L1076.96,923.31 L1074.45,926.89 L1071.95,930.40 L1069.45,933.81 L1066.94,937.10 L1064.44,940.25 L1061.94,943.27 L1059.43,946.16 L1056.93,948.92 L1054.43,951.55 L1051.92,954.05 L1049.42,956.44 L1046.92,958.71 L1044.41,960.86 L1041.91,962.90 L1039.41,964.83 L1036.90,966.66 L1034.40,968.39 L1031.90,970.01 L1029.39,971.54 L1026.89,972.97 L1024.39,974.31 L1021.88,975.56 L1019.38,976.71 L1016.88,977.78 L1014.37,978.76 L1011.87,979.66 L1009.37,980.48 L1006.86,981.22 L1004.36,981.88 L1001.86,982.46 L999.35,982.97 L996.85,983.41 L994.35,983.78 L991.84,984.08 L989.34,984.31 L986.84,984.48 L984.33,984.59 L981.83,984.64 L979.33,984.63 L976.82,984.57 L974.32,984.45 L971.82,984.28 L969.31,984.06 L966.81,983.79 L964.31,983.48 L961.80,983.12 L959.30,982.72 L956.80,982.28 L954.29,981.81 L951.79,981.29 L949.29,980.75 L946.78,980.17 L944.28,979.56 L941.78,978.92 L939.27,978.26 L936.77,977.57 L934.27,976.87 L931.76,976.14 L929.26,975.39 L926.76,974.63 L924.25,973.85 L921.75,973.06 L919.25,972.25 L916.75,971.44 L914.24,970.61 L911.74,969.77 L909.24,968.92 L906.73,968.06 L904.23,967.20 L901.73,966.32 L899.22,965.44 L896.72,964.56 L894.22,963.67 L891.71,962.78 L889.21,961.88 L886.71,960.99 L884.20,960.09 L881.70,959.19 L879.20,958.29 L876.69,957.39 L874.19,956.50 L871.69,955.61 L869.18,954.73 L866.68,953.88 L864.18,953.06 L861.67,952.29 L859.17,951.58 L856.67,950.94 L854.16,950.37 L851.66,949.91 L849.16,949.54 L846.65,949.29 L844.15,949.17 L841.65,949.19 L839.14,949.35 L836.64,949.68 L834.14,950.18 L831.63,950.87 L829.13,951.75 L826.63,952.84 L824.12,954.14 L821.62,955.68 L819.12,957.45 L816.61,959.48 L814.11,961.78 L811.61,964.35 L809.10,967.21 L806.60,970.36 Z" fill="rgb(13,138,238)" fill-opacity="0.400"/>
<path d="M806.60,867.10 L809.10,867.00 L811.61,866.93 L814.11,866.88 L816.61,866.85 L819.12,866.85 L821.62,866.87 L824.12,866.92 L826.63,866.99 L829.13,867.08 L831.63,867.20 L834.14,867.35 L836.64,867.52 L839.14,867.72 L841.65,867.95 L844.15,868.21 L846.65,868.49 L849.16,868.80 L851.66,869.14 L854.16,869.51 L856.67,869.91 L859.17,870.34 L861.67,870.80 L864.18,871.29 L866.68,871.81 L869.18,872.36 L871.69,872.94 L874.19,873.56 L876.69,874.20 L879.20,874.88 L881.70,875.60 L884.20,876.34 L886.71,877.13 L889.21,877.94 L891.71,878.79 L894.22,879.68 L896.72,880.59 L899.22,881.54 L901.73,882.52 L904.23,883.53 L906.73,884.56 L909.24,885.62 L911.74,886.70 L914.24,887.80 L916.75,888.91 L919.25,890.05 L921.75,891.19 L924.25,892.35 L926.76,893.52 L929.26,894.69 L931.76,895.87 L934.27,897.06 L936.77,898.25 L939.27,899.44 L941.78,900.62 L944.28,901.80 L946.78,902.98 L949.29,904.15 L951.79,905.30 L954.29,906.45 L956.80,907.58 L959.30,908.69 L961.80,909.78 L964.31,910.84 L966.81,911.88 L969.31,912.89 L971.82,913.87 L974.32,914.82 L976.82,915.73 L979.33,916.60 L981.83,917.42 L984.33,918.21 L986.84,918.94 L989.34,919.62 L991.84,920.26 L994.35,920.83 L996.85,921.35 L999.35,921.81 L1001.86,922.20 L1004.36,922.53 L1006.86,922.79 L1009.37,922.98 L1011.87,923.10 L1014.37,923.13 L1016.88,923.09 L1019.38,922.97 L1021.88,922.76 L1024.39,922.47 L1026.89,922.09 L1029.39,921.61 L1031.90,921.04 L1034.40,920.37 L1036.90,919.60 L1039.41,918.72 L1041.91,917.75 L1044.41,916.66 L1046.92,915.46 L1049.42,914.15 L1051.92,912.72 L1054.43,911.18 L1056.93,909.53 L1059.43,907.76 L1061.94,905.89 L1064.44,903.90 L1066.94,901.80 L1069.45,899.60 L1071.95,897.29 L1074.45,894.87 L1076.96,892.34 L1079.46,889.72 L1081.96,886.98 L1084.47,884.15 L1086.97,881.21 L1089.47,878.19 L1091.98,875.10 L1094.48,871.96 L1096.98,868.79 L1099.49,865.61 L1101.99,862.45 L1104.49,859.32 L1107.00,856.23 L1109.50,853.20 L1112.00,850.23 L1114.51,847.32 L1117.01,844.48 L1119.51,841.73 L1122.02,839.06 L1124.52,836.47 L1127.02,833.99 L1129.53,831.60 L1132.03,829.33 L1134.53,827.17 L1137.04,825.13 L1139.54,823.22 L1142.04,821.44 L1144.55,819.80 L1147.05,818.31 L1149.55,816.96 L1152.05,815.78 L1154.56,814.76 L1157.06,813.90 L1159.56,813.23 L1162.07,812.73 L1164.57,812.40 L1167.07,812.25 L1169.58,812.25 L1172.08,812.42 L1174.58,812.74 L1177.09,813.20 L1179.59,813.80 L1182.09,814.55 L1184.60,815.42 L1187.10,816.41 L1189.60,817.53 L1192.11,818.76 L1194.61,820.10 L1197.11,821.54 L1199.62,823.08 L1202.12,824.72 L1204.62,826.44 L1207.13,828.24 L1209.63,830.12 L1212.13,832.07 L1214.64,834.08 L1217.14,836.16 L1219.64,838.29 L1222.15,840.46 L1224.65,842.69 L1227.15,844.95 L1229.66,847.24 L1232.16,849.56 L1234.66,851.91 L1237.17,854.27 L1239.67,856.64 L1242.17,859.02 L1244.68,861.39 L1247.18,863.77 L1249.68,866.13 L1252.19,868.47 L1254.69,870.80 L1257.19,873.10 L1259.70,875.36 L1262.20,877.59" fill="none" stroke="#000" stroke-width="4.60" stroke-linejoin="round"/>
<g stroke="rgb(40,140,225)" stroke-opacity="0.72" stroke-width="2.10" stroke-dasharray="2.10 2.34"><line x1="1052.95" y1="724.25" x2="1143.86" y2="724.25"/><line x1="1052.95" y1="733.34" x2="1143.86" y2="733.34"/><line x1="1052.95" y1="742.43" x2="1143.86" y2="742.43"/><line x1="1052.95" y1="751.52" x2="1143.86" y2="751.52"/><line x1="1052.95" y1="760.61" x2="1143.86" y2="760.61"/><line x1="1052.95" y1="769.70" x2="1143.86" y2="769.70"/><line x1="1052.95" y1="778.79" x2="1143.86" y2="778.79"/><line x1="1052.95" y1="787.88" x2="1143.86" y2="787.88"/><line x1="1052.95" y1="796.97" x2="1143.86" y2="796.97"/><line x1="1052.95" y1="806.06" x2="1143.86" y2="806.06"/><line x1="1052.95" y1="815.15" x2="1143.86" y2="815.15"/><line x1="1052.95" y1="824.24" x2="1143.86" y2="824.24"/><line x1="1052.95" y1="833.33" x2="1143.86" y2="833.33"/><line x1="1052.95" y1="842.42" x2="1143.86" y2="842.42"/><line x1="1052.95" y1="851.51" x2="1143.86" y2="851.51"/><line x1="1052.95" y1="860.60" x2="1143.86" y2="860.60"/><line x1="1052.95" y1="869.69" x2="1143.86" y2="869.69"/><line x1="1052.95" y1="878.78" x2="1143.86" y2="878.78"/><line x1="1052.95" y1="887.87" x2="1143.86" y2="887.87"/><line x1="1052.95" y1="896.96" x2="1143.86" y2="896.96"/><line x1="1052.95" y1="906.05" x2="1143.86" y2="906.05"/><line x1="1052.95" y1="915.14" x2="1143.86" y2="915.14"/><line x1="1052.95" y1="924.23" x2="1143.86" y2="924.23"/><line x1="1052.95" y1="933.32" x2="1143.86" y2="933.32"/><line x1="1052.95" y1="942.41" x2="1143.86" y2="942.41"/><line x1="1052.95" y1="951.50" x2="1143.86" y2="951.50"/><line x1="1052.95" y1="960.59" x2="1143.86" y2="960.59"/><line x1="1052.95" y1="969.68" x2="1143.86" y2="969.68"/><line x1="1052.95" y1="978.77" x2="1143.86" y2="978.77"/><line x1="1052.95" y1="987.86" x2="1143.86" y2="987.86"/><line x1="1052.95" y1="996.95" x2="1143.86" y2="996.95"/></g>
</g>
<rect x="764.50" y="719.40" width="535.00" height="278.30" fill="none" stroke="#000" stroke-width="2.10"/>
<g stroke="#000" stroke-width="1.6"><line x1="758.50" y1="776.30" x2="764.50" y2="776.30"/><line x1="758.50" y1="840.60" x2="764.50" y2="840.60"/><line x1="758.50" y1="905.50" x2="764.50" y2="905.50"/><line x1="758.50" y1="970.20" x2="764.50" y2="970.20"/></g>
<text x="739.15" y="785.10" font-size="28.20" text-anchor="middle">9</text>
<text x="739.15" y="849.40" font-size="28.20" text-anchor="middle">6</text>
<text x="739.15" y="914.30" font-size="28.20" text-anchor="middle">3</text>
<text x="739.15" y="979.00" font-size="28.20" text-anchor="middle">0</text>
<text transform="translate(703.50,872.50) rotate(-90)" x="0" y="0" font-size="27.00" text-anchor="middle" textLength="142.5" lengthAdjust="spacingAndGlyphs">Cu (mg kg<tspan font-size="15.7" dy="-10">-1</tspan><tspan dy="10">)</tspan></text>
<text x="776.00" y="750.80" font-size="19.80"><tspan font-style="italic">n</tspan> = 20</text>
</g>
<g>
<clipPath id="cZn"><rect x="102.00" y="1080.80" width="535.00" height="281.00"/></clipPath>
<g clip-path="url(#cZn)">
<g fill="#000"><circle cx="143.50" cy="1239.90" r="8.20"/><circle cx="218.80" cy="1302.70" r="8.20"/><circle cx="329.60" cy="1312.50" r="8.20"/><circle cx="346.80" cy="1305.60" r="8.20"/><circle cx="378.30" cy="1319.70" r="8.20"/><circle cx="418.10" cy="1279.90" r="8.20"/><circle cx="413.50" cy="1296.50" r="8.20"/><circle cx="418.10" cy="1298.60" r="8.20"/><circle cx="418.10" cy="1324.50" r="8.20"/><circle cx="435.50" cy="1240.50" r="8.20"/><circle cx="440.10" cy="1294.40" r="8.20"/><circle cx="448.80" cy="1280.90" r="8.20"/><circle cx="448.80" cy="1308.30" r="8.20"/><circle cx="453.40" cy="1094.70" r="8.20"/><circle cx="466.60" cy="1315.60" r="8.20"/><circle cx="488.60" cy="1222.70" r="8.20"/><circle cx="506.50" cy="1260.00" r="8.20"/><circle cx="511.00" cy="1289.60" r="8.20"/><circle cx="559.50" cy="1305.80" r="8.20"/><circle cx="599.40" cy="1311.40" r="8.20"/></g>
<path d="M143.50,1212.10 L146.00,1212.76 L148.51,1213.41 L151.01,1214.07 L153.52,1214.72 L156.02,1215.37 L158.53,1216.01 L161.03,1216.66 L163.54,1217.30 L166.04,1217.93 L168.55,1218.57 L171.05,1219.20 L173.56,1219.83 L176.06,1220.46 L178.57,1221.08 L181.07,1221.70 L183.58,1222.32 L186.08,1222.93 L188.59,1223.54 L191.09,1224.15 L193.60,1224.75 L196.10,1225.35 L198.61,1225.95 L201.11,1226.54 L203.62,1227.13 L206.12,1227.72 L208.63,1228.30 L211.13,1228.88 L213.64,1229.45 L216.14,1230.02 L218.65,1230.59 L221.15,1231.15 L223.66,1231.71 L226.16,1232.26 L228.67,1232.81 L231.17,1233.35 L233.68,1233.89 L236.18,1234.42 L238.69,1234.95 L241.19,1235.48 L243.70,1236.00 L246.20,1236.52 L248.71,1237.03 L251.21,1237.53 L253.72,1238.03 L256.22,1238.53 L258.73,1239.02 L261.23,1239.51 L263.74,1239.99 L266.24,1240.46 L268.75,1240.93 L271.25,1241.39 L273.76,1241.85 L276.26,1242.30 L278.77,1242.75 L281.27,1243.19 L283.78,1243.63 L286.28,1244.06 L288.79,1244.48 L291.29,1244.90 L293.80,1245.31 L296.30,1245.71 L298.81,1246.11 L301.31,1246.50 L303.82,1246.89 L306.32,1247.27 L308.83,1247.64 L311.33,1248.01 L313.84,1248.37 L316.34,1248.72 L318.85,1249.06 L321.35,1249.40 L323.86,1249.74 L326.36,1250.06 L328.87,1250.38 L331.37,1250.69 L333.88,1250.99 L336.38,1251.29 L338.89,1251.58 L341.39,1251.86 L343.90,1252.13 L346.40,1252.40 L348.91,1252.66 L351.41,1252.91 L353.92,1253.16 L356.42,1253.39 L358.93,1253.62 L361.43,1253.84 L363.94,1254.05 L366.44,1254.26 L368.95,1254.45 L371.45,1254.64 L373.95,1254.82 L376.46,1254.99 L378.96,1255.15 L381.47,1255.31 L383.97,1255.45 L386.48,1255.59 L388.98,1255.72 L391.49,1255.84 L393.99,1255.95 L396.50,1256.05 L399.00,1256.14 L401.51,1256.23 L404.01,1256.30 L406.52,1256.37 L409.02,1256.42 L411.53,1256.47 L414.03,1256.51 L416.54,1256.54 L419.04,1256.55 L421.55,1256.56 L424.05,1256.56 L426.56,1256.55 L429.06,1256.53 L431.57,1256.50 L434.07,1256.46 L436.58,1256.42 L439.08,1256.36 L441.59,1256.29 L444.09,1256.21 L446.60,1256.12 L449.10,1256.02 L451.61,1255.91 L454.11,1255.79 L456.62,1255.67 L459.12,1255.53 L461.63,1255.38 L464.13,1255.22 L466.64,1255.06 L469.14,1254.88 L471.65,1254.69 L474.15,1254.50 L476.66,1254.29 L479.16,1254.08 L481.67,1253.85 L484.17,1253.61 L486.68,1253.37 L489.18,1253.12 L491.69,1252.85 L494.19,1252.58 L496.70,1252.29 L499.20,1252.00 L501.71,1251.70 L504.21,1251.39 L506.72,1251.07 L509.22,1250.73 L511.73,1250.39 L514.23,1250.04 L516.74,1249.68 L519.24,1249.31 L521.75,1248.94 L524.25,1248.55 L526.76,1248.15 L529.26,1247.74 L531.77,1247.33 L534.27,1246.90 L536.78,1246.46 L539.28,1246.02 L541.79,1245.56 L544.29,1245.10 L546.80,1244.63 L549.30,1244.14 L551.81,1243.65 L554.31,1243.15 L556.82,1242.64 L559.32,1242.12 L561.83,1241.59 L564.33,1241.05 L566.84,1240.50 L569.34,1239.95 L571.85,1239.38 L574.35,1238.80 L576.86,1238.22 L579.36,1237.63 L581.87,1237.02 L584.37,1236.41 L586.88,1235.79 L589.38,1235.16 L591.89,1234.52 L594.39,1233.87 L596.90,1233.21 L599.40,1232.54 L599.40,1327.97 L596.90,1327.38 L594.39,1326.79 L591.89,1326.20 L589.38,1325.63 L586.88,1325.05 L584.37,1324.49 L581.87,1323.93 L579.36,1323.37 L576.86,1322.82 L574.35,1322.28 L571.85,1321.74 L569.34,1321.22 L566.84,1320.69 L564.33,1320.18 L561.83,1319.66 L559.32,1319.16 L556.82,1318.66 L554.31,1318.17 L551.81,1317.69 L549.30,1317.22 L546.80,1316.75 L544.29,1316.29 L541.79,1315.83 L539.28,1315.38 L536.78,1314.94 L534.27,1314.51 L531.77,1314.09 L529.26,1313.67 L526.76,1313.26 L524.25,1312.86 L521.75,1312.47 L519.24,1312.08 L516.74,1311.70 L514.23,1311.33 L511.73,1310.97 L509.22,1310.62 L506.72,1310.27 L504.21,1309.94 L501.71,1309.61 L499.20,1309.29 L496.70,1308.98 L494.19,1308.68 L491.69,1308.39 L489.18,1308.10 L486.68,1307.83 L484.17,1307.56 L481.67,1307.31 L479.16,1307.06 L476.66,1306.82 L474.15,1306.59 L471.65,1306.37 L469.14,1306.16 L466.64,1305.96 L464.13,1305.77 L461.63,1305.59 L459.12,1305.42 L456.62,1305.26 L454.11,1305.11 L451.61,1304.97 L449.10,1304.84 L446.60,1304.72 L444.09,1304.62 L441.59,1304.52 L439.08,1304.43 L436.58,1304.35 L434.07,1304.28 L431.57,1304.23 L429.06,1304.18 L426.56,1304.15 L424.05,1304.13 L421.55,1304.11 L419.04,1304.11 L416.54,1304.12 L414.03,1304.14 L411.53,1304.16 L409.02,1304.20 L406.52,1304.25 L404.01,1304.31 L401.51,1304.38 L399.00,1304.46 L396.50,1304.54 L393.99,1304.64 L391.49,1304.75 L388.98,1304.86 L386.48,1304.99 L383.97,1305.12 L381.47,1305.27 L378.96,1305.42 L376.46,1305.58 L373.95,1305.75 L371.45,1305.93 L368.95,1306.12 L366.44,1306.32 L363.94,1306.53 L361.43,1306.74 L358.93,1306.96 L356.42,1307.19 L353.92,1307.43 L351.41,1307.68 L348.91,1307.94 L346.40,1308.20 L343.90,1308.47 L341.39,1308.75 L338.89,1309.04 L336.38,1309.33 L333.88,1309.63 L331.37,1309.94 L328.87,1310.26 L326.36,1310.58 L323.86,1310.91 L321.35,1311.25 L318.85,1311.60 L316.34,1311.95 L313.84,1312.31 L311.33,1312.67 L308.83,1313.05 L306.32,1313.43 L303.82,1313.81 L301.31,1314.20 L298.81,1314.60 L296.30,1315.01 L293.80,1315.42 L291.29,1315.83 L288.79,1316.25 L286.28,1316.68 L283.78,1317.12 L281.27,1317.56 L278.77,1318.00 L276.26,1318.45 L273.76,1318.91 L271.25,1319.37 L268.75,1319.84 L266.24,1320.31 L263.74,1320.79 L261.23,1321.27 L258.73,1321.76 L256.22,1322.25 L253.72,1322.74 L251.21,1323.24 L248.71,1323.75 L246.20,1324.26 L243.70,1324.78 L241.19,1325.29 L238.69,1325.82 L236.18,1326.34 L233.68,1326.88 L231.17,1327.41 L228.67,1327.95 L226.16,1328.49 L223.66,1329.04 L221.15,1329.59 L218.65,1330.14 L216.14,1330.70 L213.64,1331.26 L211.13,1331.82 L208.63,1332.39 L206.12,1332.96 L203.62,1333.53 L201.11,1334.11 L198.61,1334.69 L196.10,1335.27 L193.60,1335.85 L191.09,1336.44 L188.59,1337.03 L186.08,1337.62 L183.58,1338.21 L181.07,1338.81 L178.57,1339.41 L176.06,1340.01 L173.56,1340.61 L171.05,1341.21 L168.55,1341.82 L166.04,1342.43 L163.54,1343.04 L161.03,1343.65 L158.53,1344.26 L156.02,1344.87 L153.52,1345.49 L151.01,1346.10 L148.51,1346.72 L146.00,1347.34 L143.50,1347.95 Z" fill="rgb(13,138,238)" fill-opacity="0.400"/>
<path d="M143.50,1280.00 L599.40,1280.60" fill="none" stroke="#000" stroke-width="4.60" stroke-linejoin="round"/>
<g stroke="rgb(40,140,225)" stroke-opacity="0.72" stroke-width="2.10" stroke-dasharray="2.10 2.33"><line x1="390.35" y1="1086.85" x2="481.06" y2="1086.85"/><line x1="390.35" y1="1095.94" x2="481.06" y2="1095.94"/><line x1="390.35" y1="1105.03" x2="481.06" y2="1105.03"/><line x1="390.35" y1="1114.12" x2="481.06" y2="1114.12"/><line x1="390.35" y1="1123.21" x2="481.06" y2="1123.21"/><line x1="390.35" y1="1132.30" x2="481.06" y2="1132.30"/><line x1="390.35" y1="1141.39" x2="481.06" y2="1141.39"/><line x1="390.35" y1="1150.48" x2="481.06" y2="1150.48"/><line x1="390.35" y1="1159.57" x2="481.06" y2="1159.57"/><line x1="390.35" y1="1168.66" x2="481.06" y2="1168.66"/><line x1="390.35" y1="1177.75" x2="481.06" y2="1177.75"/><line x1="390.35" y1="1186.84" x2="481.06" y2="1186.84"/><line x1="390.35" y1="1195.93" x2="481.06" y2="1195.93"/><line x1="390.35" y1="1205.02" x2="481.06" y2="1205.02"/><line x1="390.35" y1="1214.11" x2="481.06" y2="1214.11"/><line x1="390.35" y1="1223.20" x2="481.06" y2="1223.20"/><line x1="390.35" y1="1232.29" x2="481.06" y2="1232.29"/><line x1="390.35" y1="1241.38" x2="481.06" y2="1241.38"/><line x1="390.35" y1="1250.47" x2="481.06" y2="1250.47"/><line x1="390.35" y1="1259.56" x2="481.06" y2="1259.56"/><line x1="390.35" y1="1268.65" x2="481.06" y2="1268.65"/><line x1="390.35" y1="1277.74" x2="481.06" y2="1277.74"/><line x1="390.35" y1="1286.83" x2="481.06" y2="1286.83"/><line x1="390.35" y1="1295.92" x2="481.06" y2="1295.92"/><line x1="390.35" y1="1305.01" x2="481.06" y2="1305.01"/><line x1="390.35" y1="1314.10" x2="481.06" y2="1314.10"/><line x1="390.35" y1="1323.19" x2="481.06" y2="1323.19"/><line x1="390.35" y1="1332.28" x2="481.06" y2="1332.28"/><line x1="390.35" y1="1341.37" x2="481.06" y2="1341.37"/><line x1="390.35" y1="1350.46" x2="481.06" y2="1350.46"/><line x1="390.35" y1="1359.55" x2="481.06" y2="1359.55"/></g>
</g>
<rect x="102.00" y="1082.00" width="535.00" height="278.60" fill="none" stroke="#000" stroke-width="2.10"/>
<g stroke="#000" stroke-width="1.6"><line x1="96.00" y1="1097.80" x2="102.00" y2="1097.80"/><line x1="96.00" y1="1179.70" x2="102.00" y2="1179.70"/><line x1="96.00" y1="1261.20" x2="102.00" y2="1261.20"/><line x1="96.00" y1="1342.50" x2="102.00" y2="1342.50"/><line x1="125.50" y1="1360.60" x2="125.50" y2="1366.60"/><line x1="258.50" y1="1360.60" x2="258.50" y2="1366.60"/><line x1="391.40" y1="1360.60" x2="391.40" y2="1366.60"/><line x1="523.30" y1="1360.60" x2="523.30" y2="1366.60"/></g>
<text x="61.65" y="1106.60" font-size="28.20" text-anchor="middle">300</text>
<text x="61.65" y="1188.50" font-size="28.20" text-anchor="middle">200</text>
<text x="62.05" y="1270.00" font-size="28.20" text-anchor="middle">100</text>
<text x="67.95" y="1351.30" font-size="28.20" text-anchor="middle">0</text>
<text transform="translate(24.30,1225.00) rotate(-90)" x="0" y="0" font-size="27.00" text-anchor="middle" textLength="140.9" lengthAdjust="spacingAndGlyphs">Zn (mg kg<tspan font-size="15.7" dy="-10">-1</tspan><tspan dy="10">)</tspan></text>
<text x="116.20" y="1111.90" font-size="19.80"><tspan font-style="italic">n</tspan> = 20</text>
</g>
<g>
<clipPath id="cAs"><rect x="764.50" y="1076.20" width="535.00" height="281.40"/></clipPath>
<g clip-path="url(#cAs)">
<g fill="#000"><circle cx="806.20" cy="1287.80" r="8.20"/><circle cx="881.70" cy="1290.90" r="8.20"/><circle cx="992.20" cy="1290.90" r="8.20"/><circle cx="1010.00" cy="1288.20" r="8.20"/><circle cx="1040.70" cy="1287.80" r="8.20"/><circle cx="1080.70" cy="1274.90" r="8.20"/><circle cx="1076.20" cy="1287.80" r="8.20"/><circle cx="1080.70" cy="1291.90" r="8.20"/><circle cx="1098.40" cy="1250.40" r="8.20"/><circle cx="1102.90" cy="1287.30" r="8.20"/><circle cx="1111.80" cy="1287.30" r="8.20"/><circle cx="1116.00" cy="1090.30" r="8.20"/><circle cx="1129.50" cy="1290.20" r="8.20"/><circle cx="1151.50" cy="1289.20" r="8.20"/><circle cx="1169.30" cy="1280.10" r="8.20"/><circle cx="1173.60" cy="1286.70" r="8.20"/><circle cx="1222.40" cy="1292.30" r="8.20"/><circle cx="1262.20" cy="1289.80" r="8.20"/></g>
<path d="M806.60,1227.91 L809.10,1228.42 L811.61,1228.93 L814.11,1229.44 L816.61,1229.94 L819.12,1230.45 L821.62,1230.94 L824.12,1231.44 L826.63,1231.93 L829.13,1232.42 L831.63,1232.91 L834.14,1233.39 L836.64,1233.87 L839.14,1234.35 L841.65,1234.82 L844.15,1235.29 L846.65,1235.76 L849.16,1236.22 L851.66,1236.68 L854.16,1237.13 L856.67,1237.58 L859.17,1238.03 L861.67,1238.48 L864.18,1238.92 L866.68,1239.35 L869.18,1239.79 L871.69,1240.22 L874.19,1240.64 L876.69,1241.06 L879.20,1241.48 L881.70,1241.89 L884.20,1242.30 L886.71,1242.70 L889.21,1243.10 L891.71,1243.50 L894.22,1243.89 L896.72,1244.27 L899.22,1244.66 L901.73,1245.03 L904.23,1245.41 L906.73,1245.77 L909.24,1246.14 L911.74,1246.49 L914.24,1246.85 L916.75,1247.19 L919.25,1247.54 L921.75,1247.88 L924.25,1248.21 L926.76,1248.54 L929.26,1248.86 L931.76,1249.18 L934.27,1249.49 L936.77,1249.79 L939.27,1250.10 L941.78,1250.39 L944.28,1250.68 L946.78,1250.97 L949.29,1251.24 L951.79,1251.52 L954.29,1251.78 L956.80,1252.05 L959.30,1252.30 L961.80,1252.55 L964.31,1252.80 L966.81,1253.03 L969.31,1253.26 L971.82,1253.49 L974.32,1253.71 L976.82,1253.92 L979.33,1254.13 L981.83,1254.33 L984.33,1254.52 L986.84,1254.71 L989.34,1254.89 L991.84,1255.07 L994.35,1255.23 L996.85,1255.40 L999.35,1255.55 L1001.86,1255.70 L1004.36,1255.84 L1006.86,1255.97 L1009.37,1256.10 L1011.87,1256.22 L1014.37,1256.33 L1016.88,1256.44 L1019.38,1256.54 L1021.88,1256.63 L1024.39,1256.71 L1026.89,1256.79 L1029.39,1256.86 L1031.90,1256.92 L1034.40,1256.98 L1036.90,1257.02 L1039.41,1257.06 L1041.91,1257.09 L1044.41,1257.12 L1046.92,1257.14 L1049.42,1257.14 L1051.92,1257.14 L1054.43,1257.14 L1056.93,1257.12 L1059.43,1257.10 L1061.94,1257.07 L1064.44,1257.03 L1066.94,1256.98 L1069.45,1256.93 L1071.95,1256.86 L1074.45,1256.79 L1076.96,1256.71 L1079.46,1256.62 L1081.96,1256.52 L1084.47,1256.41 L1086.97,1256.30 L1089.47,1256.18 L1091.98,1256.04 L1094.48,1255.90 L1096.98,1255.75 L1099.49,1255.59 L1101.99,1255.43 L1104.49,1255.25 L1107.00,1255.07 L1109.50,1254.87 L1112.00,1254.67 L1114.51,1254.46 L1117.01,1254.24 L1119.51,1254.02 L1122.02,1253.78 L1124.52,1253.54 L1127.02,1253.29 L1129.53,1253.03 L1132.03,1252.76 L1134.53,1252.49 L1137.04,1252.21 L1139.54,1251.92 L1142.04,1251.62 L1144.55,1251.31 L1147.05,1251.00 L1149.55,1250.68 L1152.05,1250.35 L1154.56,1250.02 L1157.06,1249.67 L1159.56,1249.32 L1162.07,1248.97 L1164.57,1248.60 L1167.07,1248.23 L1169.58,1247.85 L1172.08,1247.47 L1174.58,1247.08 L1177.09,1246.68 L1179.59,1246.27 L1182.09,1245.86 L1184.60,1245.44 L1187.10,1245.02 L1189.60,1244.59 L1192.11,1244.15 L1194.61,1243.70 L1197.11,1243.25 L1199.62,1242.80 L1202.12,1242.33 L1204.62,1241.87 L1207.13,1241.39 L1209.63,1240.91 L1212.13,1240.42 L1214.64,1239.93 L1217.14,1239.43 L1219.64,1238.93 L1222.15,1238.42 L1224.65,1237.90 L1227.15,1237.38 L1229.66,1236.85 L1232.16,1236.32 L1234.66,1235.79 L1237.17,1235.24 L1239.67,1234.70 L1242.17,1234.14 L1244.68,1233.59 L1247.18,1233.02 L1249.68,1232.46 L1252.19,1231.88 L1254.69,1231.31 L1257.19,1230.72 L1259.70,1230.14 L1262.20,1229.55 L1262.20,1310.55 L1259.70,1310.12 L1257.19,1309.69 L1254.69,1309.27 L1252.19,1308.85 L1249.68,1308.44 L1247.18,1308.04 L1244.68,1307.65 L1242.17,1307.26 L1239.67,1306.88 L1237.17,1306.51 L1234.66,1306.14 L1232.16,1305.78 L1229.66,1305.43 L1227.15,1305.09 L1224.65,1304.75 L1222.15,1304.42 L1219.64,1304.10 L1217.14,1303.78 L1214.64,1303.48 L1212.13,1303.17 L1209.63,1302.88 L1207.13,1302.59 L1204.62,1302.31 L1202.12,1302.04 L1199.62,1301.77 L1197.11,1301.51 L1194.61,1301.26 L1192.11,1301.01 L1189.60,1300.78 L1187.10,1300.55 L1184.60,1300.32 L1182.09,1300.10 L1179.59,1299.89 L1177.09,1299.69 L1174.58,1299.49 L1172.08,1299.31 L1169.58,1299.12 L1167.07,1298.95 L1164.57,1298.78 L1162.07,1298.62 L1159.56,1298.46 L1157.06,1298.32 L1154.56,1298.18 L1152.05,1298.04 L1149.55,1297.92 L1147.05,1297.80 L1144.55,1297.69 L1142.04,1297.58 L1139.54,1297.48 L1137.04,1297.39 L1134.53,1297.30 L1132.03,1297.23 L1129.53,1297.16 L1127.02,1297.09 L1124.52,1297.03 L1122.02,1296.98 L1119.51,1296.94 L1117.01,1296.90 L1114.51,1296.87 L1112.00,1296.85 L1109.50,1296.84 L1107.00,1296.83 L1104.49,1296.83 L1101.99,1296.83 L1099.49,1296.84 L1096.98,1296.86 L1094.48,1296.89 L1091.98,1296.92 L1089.47,1296.96 L1086.97,1297.00 L1084.47,1297.06 L1081.96,1297.11 L1079.46,1297.18 L1076.96,1297.25 L1074.45,1297.33 L1071.95,1297.42 L1069.45,1297.51 L1066.94,1297.61 L1064.44,1297.72 L1061.94,1297.84 L1059.43,1297.96 L1056.93,1298.08 L1054.43,1298.22 L1051.92,1298.36 L1049.42,1298.51 L1046.92,1298.66 L1044.41,1298.82 L1041.91,1298.99 L1039.41,1299.17 L1036.90,1299.35 L1034.40,1299.54 L1031.90,1299.73 L1029.39,1299.93 L1026.89,1300.14 L1024.39,1300.36 L1021.88,1300.58 L1019.38,1300.81 L1016.88,1301.04 L1014.37,1301.28 L1011.87,1301.53 L1009.37,1301.79 L1006.86,1302.05 L1004.36,1302.32 L1001.86,1302.59 L999.35,1302.88 L996.85,1303.16 L994.35,1303.46 L991.84,1303.76 L989.34,1304.07 L986.84,1304.38 L984.33,1304.71 L981.83,1305.04 L979.33,1305.37 L976.82,1305.71 L974.32,1306.06 L971.82,1306.42 L969.31,1306.78 L966.81,1307.15 L964.31,1307.52 L961.80,1307.90 L959.30,1308.29 L956.80,1308.68 L954.29,1309.09 L951.79,1309.49 L949.29,1309.91 L946.78,1310.33 L944.28,1310.76 L941.78,1311.19 L939.27,1311.63 L936.77,1312.08 L934.27,1312.53 L931.76,1312.99 L929.26,1313.46 L926.76,1313.93 L924.25,1314.41 L921.75,1314.90 L919.25,1315.39 L916.75,1315.89 L914.24,1316.40 L911.74,1316.91 L909.24,1317.43 L906.73,1317.95 L904.23,1318.48 L901.73,1319.02 L899.22,1319.57 L896.72,1320.12 L894.22,1320.68 L891.71,1321.24 L889.21,1321.81 L886.71,1322.39 L884.20,1322.97 L881.70,1323.56 L879.20,1324.16 L876.69,1324.76 L874.19,1325.37 L871.69,1325.99 L869.18,1326.61 L866.68,1327.24 L864.18,1327.87 L861.67,1328.51 L859.17,1329.16 L856.67,1329.82 L854.16,1330.48 L851.66,1331.14 L849.16,1331.82 L846.65,1332.50 L844.15,1333.18 L841.65,1333.87 L839.14,1334.57 L836.64,1335.28 L834.14,1335.99 L831.63,1336.71 L829.13,1337.43 L826.63,1338.16 L824.12,1338.90 L821.62,1339.64 L819.12,1340.39 L816.61,1341.15 L814.11,1341.91 L811.61,1342.68 L809.10,1343.45 L806.60,1344.23 Z" fill="rgb(13,138,238)" fill-opacity="0.400"/>
<path d="M806.60,1286.90 L1262.20,1270.10" fill="none" stroke="#000" stroke-width="4.60" stroke-linejoin="round"/>
<g stroke="rgb(40,140,225)" stroke-opacity="0.72" stroke-width="2.10" stroke-dasharray="2.10 2.34"><line x1="1052.95" y1="1082.25" x2="1143.86" y2="1082.25"/><line x1="1052.95" y1="1091.34" x2="1143.86" y2="1091.34"/><line x1="1052.95" y1="1100.43" x2="1143.86" y2="1100.43"/><line x1="1052.95" y1="1109.52" x2="1143.86" y2="1109.52"/><line x1="1052.95" y1="1118.61" x2="1143.86" y2="1118.61"/><line x1="1052.95" y1="1127.70" x2="1143.86" y2="1127.70"/><line x1="1052.95" y1="1136.79" x2="1143.86" y2="1136.79"/><line x1="1052.95" y1="1145.88" x2="1143.86" y2="1145.88"/><line x1="1052.95" y1="1154.97" x2="1143.86" y2="1154.97"/><line x1="1052.95" y1="1164.06" x2="1143.86" y2="1164.06"/><line x1="1052.95" y1="1173.15" x2="1143.86" y2="1173.15"/><line x1="1052.95" y1="1182.24" x2="1143.86" y2="1182.24"/><line x1="1052.95" y1="1191.33" x2="1143.86" y2="1191.33"/><line x1="1052.95" y1="1200.42" x2="1143.86" y2="1200.42"/><line x1="1052.95" y1="1209.51" x2="1143.86" y2="1209.51"/><line x1="1052.95" y1="1218.60" x2="1143.86" y2="1218.60"/><line x1="1052.95" y1="1227.69" x2="1143.86" y2="1227.69"/><line x1="1052.95" y1="1236.78" x2="1143.86" y2="1236.78"/><line x1="1052.95" y1="1245.87" x2="1143.86" y2="1245.87"/><line x1="1052.95" y1="1254.96" x2="1143.86" y2="1254.96"/><line x1="1052.95" y1="1264.05" x2="1143.86" y2="1264.05"/><line x1="1052.95" y1="1273.14" x2="1143.86" y2="1273.14"/><line x1="1052.95" y1="1282.23" x2="1143.86" y2="1282.23"/><line x1="1052.95" y1="1291.32" x2="1143.86" y2="1291.32"/><line x1="1052.95" y1="1300.41" x2="1143.86" y2="1300.41"/><line x1="1052.95" y1="1309.50" x2="1143.86" y2="1309.50"/><line x1="1052.95" y1="1318.59" x2="1143.86" y2="1318.59"/><line x1="1052.95" y1="1327.68" x2="1143.86" y2="1327.68"/><line x1="1052.95" y1="1336.77" x2="1143.86" y2="1336.77"/><line x1="1052.95" y1="1345.86" x2="1143.86" y2="1345.86"/><line x1="1052.95" y1="1354.95" x2="1143.86" y2="1354.95"/></g>
</g>
<rect x="764.50" y="1077.40" width="535.00" height="279.00" fill="none" stroke="#000" stroke-width="2.10"/>
<g stroke="#000" stroke-width="1.6"><line x1="758.50" y1="1088.70" x2="764.50" y2="1088.70"/><line x1="758.50" y1="1156.70" x2="764.50" y2="1156.70"/><line x1="758.50" y1="1224.50" x2="764.50" y2="1224.50"/><line x1="758.50" y1="1292.50" x2="764.50" y2="1292.50"/><line x1="788.60" y1="1356.40" x2="788.60" y2="1362.40"/><line x1="921.10" y1="1356.40" x2="921.10" y2="1362.40"/><line x1="1053.90" y1="1356.40" x2="1053.90" y2="1362.40"/><line x1="1186.40" y1="1356.40" x2="1186.40" y2="1362.40"/></g>
<text x="735.85" y="1097.50" font-size="28.20" text-anchor="middle">90</text>
<text x="735.85" y="1165.50" font-size="28.20" text-anchor="middle">60</text>
<text x="735.85" y="1233.30" font-size="28.20" text-anchor="middle">30</text>
<text x="739.15" y="1301.30" font-size="28.20" text-anchor="middle">0</text>
<text transform="translate(703.50,1229.55) rotate(-90)" x="0" y="0" font-size="27.00" text-anchor="middle" textLength="140.0" lengthAdjust="spacingAndGlyphs">As (mg kg<tspan font-size="15.7" dy="-10">-1</tspan><tspan dy="10">)</tspan></text>
<text x="776.00" y="1112.00" font-size="19.80"><tspan font-style="italic">n</tspan> = 20</text>
</g>
<g>
<clipPath id="cAg"><rect x="102.00" y="1436.60" width="535.00" height="281.00"/></clipPath>
<g clip-path="url(#cAg)">
<g fill="#000"><circle cx="143.10" cy="1689.60" r="8.20"/><circle cx="218.20" cy="1501.50" r="8.20"/><circle cx="328.70" cy="1685.10" r="8.20"/><circle cx="346.40" cy="1679.90" r="8.20"/><circle cx="377.90" cy="1624.50" r="8.20"/><circle cx="413.10" cy="1546.50" r="8.20"/><circle cx="417.70" cy="1648.20" r="8.20"/><circle cx="417.70" cy="1671.60" r="8.20"/><circle cx="417.70" cy="1694.40" r="8.20"/><circle cx="435.30" cy="1604.20" r="8.20"/><circle cx="439.50" cy="1450.30" r="8.20"/><circle cx="448.40" cy="1627.00" r="8.20"/><circle cx="448.40" cy="1644.00" r="8.20"/><circle cx="453.00" cy="1641.50" r="8.20"/><circle cx="465.80" cy="1672.20" r="8.20"/><circle cx="488.20" cy="1665.00" r="8.20"/><circle cx="505.80" cy="1667.90" r="8.20"/><circle cx="510.40" cy="1621.80" r="8.20"/><circle cx="558.70" cy="1648.40" r="8.20"/><circle cx="598.70" cy="1675.30" r="8.20"/></g>
<path d="M143.10,1529.45 L145.60,1530.40 L148.11,1531.36 L150.61,1532.32 L153.11,1533.29 L155.62,1534.26 L158.12,1535.23 L160.62,1536.21 L163.13,1537.19 L165.63,1538.17 L168.13,1539.15 L170.64,1540.14 L173.14,1541.13 L175.64,1542.12 L178.15,1543.11 L180.65,1544.09 L183.15,1545.08 L185.66,1546.07 L188.16,1547.06 L190.66,1548.05 L193.17,1549.03 L195.67,1550.01 L198.17,1551.00 L200.68,1551.97 L203.18,1552.95 L205.68,1553.92 L208.19,1554.89 L210.69,1555.85 L213.19,1556.81 L215.70,1557.77 L218.20,1558.71 L220.70,1559.66 L223.21,1560.59 L225.71,1561.53 L228.21,1562.45 L230.72,1563.37 L233.22,1564.28 L235.72,1565.18 L238.23,1566.07 L240.73,1566.96 L243.23,1567.83 L245.74,1568.70 L248.24,1569.56 L250.74,1570.40 L253.25,1571.24 L255.75,1572.06 L258.25,1572.88 L260.75,1573.68 L263.26,1574.47 L265.76,1575.25 L268.26,1576.02 L270.77,1576.77 L273.27,1577.51 L275.77,1578.24 L278.28,1578.96 L280.78,1579.66 L283.28,1580.36 L285.79,1581.04 L288.29,1581.71 L290.79,1582.37 L293.30,1583.02 L295.80,1583.65 L298.30,1584.28 L300.81,1584.90 L303.31,1585.50 L305.81,1586.10 L308.32,1586.68 L310.82,1587.26 L313.32,1587.83 L315.83,1588.38 L318.33,1588.93 L320.83,1589.47 L323.34,1590.00 L325.84,1590.52 L328.34,1591.03 L330.85,1591.53 L333.35,1592.03 L335.85,1592.51 L338.36,1592.99 L340.86,1593.46 L343.36,1593.92 L345.87,1594.38 L348.37,1594.83 L350.87,1595.27 L353.38,1595.70 L355.88,1596.13 L358.38,1596.55 L360.89,1596.96 L363.39,1597.36 L365.89,1597.76 L368.40,1598.15 L370.90,1598.53 L373.40,1598.90 L375.91,1599.27 L378.41,1599.63 L380.91,1599.98 L383.42,1600.32 L385.92,1600.66 L388.42,1600.99 L390.93,1601.31 L393.43,1601.62 L395.93,1601.93 L398.44,1602.22 L400.94,1602.51 L403.44,1602.78 L405.95,1603.05 L408.45,1603.30 L410.95,1603.54 L413.46,1603.77 L415.96,1603.99 L418.46,1604.20 L420.97,1604.39 L423.47,1604.57 L425.97,1604.73 L428.48,1604.88 L430.98,1605.01 L433.48,1605.12 L435.99,1605.22 L438.49,1605.31 L440.99,1605.37 L443.50,1605.42 L446.00,1605.46 L448.50,1605.48 L451.01,1605.49 L453.51,1605.48 L456.01,1605.46 L458.52,1605.42 L461.02,1605.37 L463.52,1605.31 L466.03,1605.23 L468.53,1605.14 L471.03,1605.03 L473.54,1604.92 L476.04,1604.79 L478.54,1604.65 L481.05,1604.49 L483.55,1604.33 L486.05,1604.15 L488.55,1603.96 L491.06,1603.77 L493.56,1603.56 L496.06,1603.34 L498.57,1603.10 L501.07,1602.86 L503.57,1602.61 L506.08,1602.35 L508.58,1602.08 L511.08,1601.80 L513.59,1601.52 L516.09,1601.22 L518.59,1600.92 L521.10,1600.60 L523.60,1600.28 L526.10,1599.95 L528.61,1599.62 L531.11,1599.27 L533.61,1598.92 L536.12,1598.57 L538.62,1598.20 L541.12,1597.83 L543.63,1597.46 L546.13,1597.07 L548.63,1596.69 L551.14,1596.29 L553.64,1595.90 L556.14,1595.49 L558.65,1595.09 L561.15,1594.68 L563.65,1594.26 L566.16,1593.84 L568.66,1593.42 L571.16,1592.99 L573.67,1592.56 L576.17,1592.13 L578.67,1591.69 L581.18,1591.25 L583.68,1590.81 L586.18,1590.37 L588.69,1589.93 L591.19,1589.48 L593.69,1589.03 L596.20,1588.59 L598.70,1588.14 L598.70,1704.40 L596.20,1703.31 L593.69,1702.24 L591.19,1701.19 L588.69,1700.15 L586.18,1699.12 L583.68,1698.11 L581.18,1697.12 L578.67,1696.13 L576.17,1695.17 L573.67,1694.21 L571.16,1693.27 L568.66,1692.35 L566.16,1691.44 L563.65,1690.54 L561.15,1689.66 L558.65,1688.79 L556.14,1687.93 L553.64,1687.09 L551.14,1686.27 L548.63,1685.45 L546.13,1684.66 L543.63,1683.87 L541.12,1683.10 L538.62,1682.34 L536.12,1681.60 L533.61,1680.87 L531.11,1680.16 L528.61,1679.45 L526.10,1678.77 L523.60,1678.09 L521.10,1677.43 L518.59,1676.78 L516.09,1676.15 L513.59,1675.53 L511.08,1674.92 L508.58,1674.33 L506.08,1673.75 L503.57,1673.19 L501.07,1672.63 L498.57,1672.09 L496.06,1671.57 L493.56,1671.05 L491.06,1670.55 L488.55,1670.07 L486.05,1669.59 L483.55,1669.13 L481.05,1668.69 L478.54,1668.25 L476.04,1667.83 L473.54,1667.43 L471.03,1667.03 L468.53,1666.65 L466.03,1666.28 L463.52,1665.92 L461.02,1665.58 L458.52,1665.25 L456.01,1664.93 L453.51,1664.63 L451.01,1664.34 L448.50,1664.06 L446.00,1663.79 L443.50,1663.54 L440.99,1663.30 L438.49,1663.07 L435.99,1662.85 L433.48,1662.65 L430.98,1662.46 L428.48,1662.28 L425.97,1662.11 L423.47,1661.96 L420.97,1661.81 L418.46,1661.68 L415.96,1661.56 L413.46,1661.46 L410.95,1661.36 L408.45,1661.28 L405.95,1661.21 L403.44,1661.15 L400.94,1661.10 L398.44,1661.06 L395.93,1661.03 L393.43,1661.02 L390.93,1661.01 L388.42,1661.01 L385.92,1661.03 L383.42,1661.06 L380.91,1661.09 L378.41,1661.14 L375.91,1661.20 L373.40,1661.26 L370.90,1661.34 L368.40,1661.43 L365.89,1661.52 L363.39,1661.63 L360.89,1661.75 L358.38,1661.87 L355.88,1662.01 L353.38,1662.15 L350.87,1662.30 L348.37,1662.46 L345.87,1662.63 L343.36,1662.81 L340.86,1663.00 L338.36,1663.20 L335.85,1663.40 L333.35,1663.62 L330.85,1663.84 L328.34,1664.07 L325.84,1664.31 L323.34,1664.55 L320.83,1664.81 L318.33,1665.07 L315.83,1665.34 L313.32,1665.61 L310.82,1665.90 L308.32,1666.19 L305.81,1666.48 L303.31,1666.79 L300.81,1667.10 L298.30,1667.42 L295.80,1667.75 L293.30,1668.08 L290.79,1668.42 L288.29,1668.76 L285.79,1669.12 L283.28,1669.47 L280.78,1669.84 L278.28,1670.21 L275.77,1670.58 L273.27,1670.96 L270.77,1671.35 L268.26,1671.74 L265.76,1672.14 L263.26,1672.55 L260.75,1672.95 L258.25,1673.37 L255.75,1673.79 L253.25,1674.21 L250.74,1674.64 L248.24,1675.07 L245.74,1675.51 L243.23,1675.95 L240.73,1676.40 L238.23,1676.85 L235.72,1677.31 L233.22,1677.77 L230.72,1678.23 L228.21,1678.70 L225.71,1679.17 L223.21,1679.64 L220.70,1680.12 L218.20,1680.60 L215.70,1681.09 L213.19,1681.58 L210.69,1682.07 L208.19,1682.56 L205.68,1683.06 L203.18,1683.56 L200.68,1684.06 L198.17,1684.57 L195.67,1685.08 L193.17,1685.59 L190.66,1686.10 L188.16,1686.61 L185.66,1687.13 L183.15,1687.65 L180.65,1688.17 L178.15,1688.69 L175.64,1689.21 L173.14,1689.74 L170.64,1690.26 L168.13,1690.79 L165.63,1691.32 L163.13,1691.85 L160.62,1692.38 L158.12,1692.91 L155.62,1693.45 L153.11,1693.98 L150.61,1694.51 L148.11,1695.05 L145.60,1695.58 L143.10,1696.12 Z" fill="rgb(13,138,238)" fill-opacity="0.400"/>
<path d="M143.10,1612.90 L598.70,1646.10" fill="none" stroke="#000" stroke-width="4.60" stroke-linejoin="round"/>
<g stroke="rgb(40,140,225)" stroke-opacity="0.72" stroke-width="2.10" stroke-dasharray="2.10 2.33"><line x1="390.35" y1="1442.65" x2="481.06" y2="1442.65"/><line x1="390.35" y1="1451.74" x2="481.06" y2="1451.74"/><line x1="390.35" y1="1460.83" x2="481.06" y2="1460.83"/><line x1="390.35" y1="1469.92" x2="481.06" y2="1469.92"/><line x1="390.35" y1="1479.01" x2="481.06" y2="1479.01"/><line x1="390.35" y1="1488.10" x2="481.06" y2="1488.10"/><line x1="390.35" y1="1497.19" x2="481.06" y2="1497.19"/><line x1="390.35" y1="1506.28" x2="481.06" y2="1506.28"/><line x1="390.35" y1="1515.37" x2="481.06" y2="1515.37"/><line x1="390.35" y1="1524.46" x2="481.06" y2="1524.46"/><line x1="390.35" y1="1533.55" x2="481.06" y2="1533.55"/><line x1="390.35" y1="1542.64" x2="481.06" y2="1542.64"/><line x1="390.35" y1="1551.73" x2="481.06" y2="1551.73"/><line x1="390.35" y1="1560.82" x2="481.06" y2="1560.82"/><line x1="390.35" y1="1569.91" x2="481.06" y2="1569.91"/><line x1="390.35" y1="1579.00" x2="481.06" y2="1579.00"/><line x1="390.35" y1="1588.09" x2="481.06" y2="1588.09"/><line x1="390.35" y1="1597.18" x2="481.06" y2="1597.18"/><line x1="390.35" y1="1606.27" x2="481.06" y2="1606.27"/><line x1="390.35" y1="1615.36" x2="481.06" y2="1615.36"/><line x1="390.35" y1="1624.45" x2="481.06" y2="1624.45"/><line x1="390.35" y1="1633.54" x2="481.06" y2="1633.54"/><line x1="390.35" y1="1642.63" x2="481.06" y2="1642.63"/><line x1="390.35" y1="1651.72" x2="481.06" y2="1651.72"/><line x1="390.35" y1="1660.81" x2="481.06" y2="1660.81"/><line x1="390.35" y1="1669.90" x2="481.06" y2="1669.90"/><line x1="390.35" y1="1678.99" x2="481.06" y2="1678.99"/><line x1="390.35" y1="1688.08" x2="481.06" y2="1688.08"/><line x1="390.35" y1="1697.17" x2="481.06" y2="1697.17"/><line x1="390.35" y1="1706.26" x2="481.06" y2="1706.26"/><line x1="390.35" y1="1715.35" x2="481.06" y2="1715.35"/></g>
</g>
<rect x="102.00" y="1437.80" width="535.00" height="278.60" fill="none" stroke="#000" stroke-width="2.10"/>
<g stroke="#000" stroke-width="1.6"><line x1="96.00" y1="1510.60" x2="102.00" y2="1510.60"/><line x1="96.00" y1="1602.70" x2="102.00" y2="1602.70"/><line x1="96.00" y1="1694.80" x2="102.00" y2="1694.80"/><line x1="125.50" y1="1716.40" x2="125.50" y2="1722.40"/><line x1="258.50" y1="1716.40" x2="258.50" y2="1722.40"/><line x1="391.40" y1="1716.40" x2="391.40" y2="1722.40"/><line x1="523.30" y1="1716.40" x2="523.30" y2="1722.40"/></g>
<text x="67.50" y="1519.40" font-size="28.20" text-anchor="middle">0.2</text>
<text x="67.50" y="1611.50" font-size="28.20" text-anchor="middle">0.1</text>
<text x="67.50" y="1703.60" font-size="28.20" text-anchor="middle">0.0</text>
<text transform="translate(35.20,1585.80) rotate(-90)" x="0" y="0" font-size="27.00" text-anchor="middle" textLength="142.5" lengthAdjust="spacingAndGlyphs">Ag (mg kg<tspan font-size="15.7" dy="-10">-1</tspan><tspan dy="10">)</tspan></text>
<text x="116.20" y="1466.90" font-size="19.80"><tspan font-style="italic">n</tspan> = 20</text>
</g>
<g>
<clipPath id="cTHg"><rect x="764.50" y="1435.10" width="535.00" height="280.90"/></clipPath>
<g clip-path="url(#cTHg)">
<g fill="#000"><circle cx="806.20" cy="1624.00" r="8.20"/><circle cx="881.70" cy="1644.70" r="8.20"/><circle cx="992.20" cy="1626.50" r="8.20"/><circle cx="1010.00" cy="1634.30" r="8.20"/><circle cx="1040.70" cy="1627.10" r="8.20"/><circle cx="1080.70" cy="1463.30" r="8.20"/><circle cx="1076.20" cy="1554.90" r="8.20"/><circle cx="1080.70" cy="1577.70" r="8.20"/><circle cx="1076.20" cy="1595.60" r="8.20"/><circle cx="1098.40" cy="1570.70" r="8.20"/><circle cx="1102.90" cy="1610.50" r="8.20"/><circle cx="1111.80" cy="1535.80" r="8.20"/><circle cx="1111.80" cy="1593.30" r="8.20"/><circle cx="1116.00" cy="1448.70" r="8.20"/><circle cx="1129.50" cy="1574.80" r="8.20"/><circle cx="1151.50" cy="1537.90" r="8.20"/><circle cx="1160.20" cy="1586.60" r="8.20"/><circle cx="1169.30" cy="1534.20" r="8.20"/><circle cx="1173.60" cy="1567.60" r="8.20"/><circle cx="1218.00" cy="1553.90" r="8.20"/><circle cx="1222.40" cy="1579.00" r="8.20"/><circle cx="1262.20" cy="1512.00" r="8.20"/></g>
<path d="M806.60,1591.90 L809.10,1591.54 L811.61,1591.18 L814.11,1590.82 L816.61,1590.48 L819.12,1590.14 L821.62,1589.81 L824.12,1589.48 L826.63,1589.15 L829.13,1588.84 L831.63,1588.53 L834.14,1588.22 L836.64,1587.92 L839.14,1587.62 L841.65,1587.33 L844.15,1587.05 L846.65,1586.76 L849.16,1586.48 L851.66,1586.21 L854.16,1585.94 L856.67,1585.67 L859.17,1585.41 L861.67,1585.15 L864.18,1584.90 L866.68,1584.64 L869.18,1584.39 L871.69,1584.14 L874.19,1583.90 L876.69,1583.66 L879.20,1583.42 L881.70,1583.18 L884.20,1582.94 L886.71,1582.71 L889.21,1582.48 L891.71,1582.24 L894.22,1582.01 L896.72,1581.78 L899.22,1581.56 L901.73,1581.33 L904.23,1581.10 L906.73,1580.88 L909.24,1580.65 L911.74,1580.43 L914.24,1580.20 L916.75,1579.97 L919.25,1579.75 L921.75,1579.52 L924.25,1579.29 L926.76,1579.07 L929.26,1578.84 L931.76,1578.61 L934.27,1578.37 L936.77,1578.14 L939.27,1577.91 L941.78,1577.67 L944.28,1577.43 L946.78,1577.19 L949.29,1576.95 L951.79,1576.70 L954.29,1576.45 L956.80,1576.20 L959.30,1575.95 L961.80,1575.69 L964.31,1575.43 L966.81,1575.16 L969.31,1574.90 L971.82,1574.63 L974.32,1574.35 L976.82,1574.07 L979.33,1573.79 L981.83,1573.50 L984.33,1573.21 L986.84,1572.91 L989.34,1572.61 L991.84,1572.30 L994.35,1571.98 L996.85,1571.67 L999.35,1571.34 L1001.86,1571.01 L1004.36,1570.68 L1006.86,1570.34 L1009.37,1569.99 L1011.87,1569.63 L1014.37,1569.27 L1016.88,1568.90 L1019.38,1568.53 L1021.88,1568.15 L1024.39,1567.76 L1026.89,1567.36 L1029.39,1566.96 L1031.90,1566.55 L1034.40,1566.13 L1036.90,1565.70 L1039.41,1565.27 L1041.91,1564.82 L1044.41,1564.37 L1046.92,1563.91 L1049.42,1563.44 L1051.92,1562.96 L1054.43,1562.47 L1056.93,1561.97 L1059.43,1561.46 L1061.94,1560.95 L1064.44,1560.42 L1066.94,1559.88 L1069.45,1559.34 L1071.95,1558.78 L1074.45,1558.21 L1076.96,1557.63 L1079.46,1557.04 L1081.96,1556.44 L1084.47,1555.83 L1086.97,1555.21 L1089.47,1554.58 L1091.98,1553.93 L1094.48,1553.27 L1096.98,1552.60 L1099.49,1551.92 L1101.99,1551.23 L1104.49,1550.52 L1107.00,1549.80 L1109.50,1549.07 L1112.00,1548.33 L1114.51,1547.58 L1117.01,1546.82 L1119.51,1546.04 L1122.02,1545.25 L1124.52,1544.45 L1127.02,1543.64 L1129.53,1542.82 L1132.03,1541.98 L1134.53,1541.14 L1137.04,1540.28 L1139.54,1539.41 L1142.04,1538.53 L1144.55,1537.64 L1147.05,1536.74 L1149.55,1535.82 L1152.05,1534.89 L1154.56,1533.96 L1157.06,1533.01 L1159.56,1532.05 L1162.07,1531.08 L1164.57,1530.09 L1167.07,1529.10 L1169.58,1528.09 L1172.08,1527.08 L1174.58,1526.05 L1177.09,1525.01 L1179.59,1523.96 L1182.09,1522.90 L1184.60,1521.83 L1187.10,1520.75 L1189.60,1519.67 L1192.11,1518.58 L1194.61,1517.49 L1197.11,1516.40 L1199.62,1515.30 L1202.12,1514.20 L1204.62,1513.11 L1207.13,1512.01 L1209.63,1510.92 L1212.13,1509.83 L1214.64,1508.75 L1217.14,1507.68 L1219.64,1506.61 L1222.15,1505.56 L1224.65,1504.51 L1227.15,1503.47 L1229.66,1502.45 L1232.16,1501.44 L1234.66,1500.45 L1237.17,1499.47 L1239.67,1498.51 L1242.17,1497.57 L1244.68,1496.65 L1247.18,1495.75 L1249.68,1494.87 L1252.19,1494.02 L1254.69,1493.19 L1257.19,1492.39 L1259.70,1491.61 L1262.20,1490.86 L1262.20,1562.24 L1259.70,1562.23 L1257.19,1562.23 L1254.69,1562.24 L1252.19,1562.27 L1249.68,1562.31 L1247.18,1562.37 L1244.68,1562.44 L1242.17,1562.52 L1239.67,1562.62 L1237.17,1562.72 L1234.66,1562.85 L1232.16,1562.98 L1229.66,1563.13 L1227.15,1563.29 L1224.65,1563.47 L1222.15,1563.65 L1219.64,1563.85 L1217.14,1564.07 L1214.64,1564.29 L1212.13,1564.53 L1209.63,1564.78 L1207.13,1565.04 L1204.62,1565.31 L1202.12,1565.60 L1199.62,1565.90 L1197.11,1566.21 L1194.61,1566.53 L1192.11,1566.86 L1189.60,1567.21 L1187.10,1567.57 L1184.60,1567.93 L1182.09,1568.31 L1179.59,1568.70 L1177.09,1569.11 L1174.58,1569.52 L1172.08,1569.94 L1169.58,1570.38 L1167.07,1570.82 L1164.57,1571.28 L1162.07,1571.74 L1159.56,1572.22 L1157.06,1572.71 L1154.56,1573.21 L1152.05,1573.72 L1149.55,1574.23 L1147.05,1574.76 L1144.55,1575.30 L1142.04,1575.85 L1139.54,1576.41 L1137.04,1576.98 L1134.53,1577.55 L1132.03,1578.14 L1129.53,1578.74 L1127.02,1579.34 L1124.52,1579.96 L1122.02,1580.58 L1119.51,1581.22 L1117.01,1581.86 L1114.51,1582.51 L1112.00,1583.17 L1109.50,1583.84 L1107.00,1584.52 L1104.49,1585.20 L1101.99,1585.90 L1099.49,1586.60 L1096.98,1587.31 L1094.48,1588.03 L1091.98,1588.76 L1089.47,1589.50 L1086.97,1590.24 L1084.47,1590.99 L1081.96,1591.75 L1079.46,1592.52 L1076.96,1593.29 L1074.45,1594.07 L1071.95,1594.86 L1069.45,1595.66 L1066.94,1596.46 L1064.44,1597.27 L1061.94,1598.09 L1059.43,1598.92 L1056.93,1599.75 L1054.43,1600.59 L1051.92,1601.43 L1049.42,1602.28 L1046.92,1603.14 L1044.41,1604.01 L1041.91,1604.88 L1039.41,1605.75 L1036.90,1606.64 L1034.40,1607.53 L1031.90,1608.42 L1029.39,1609.32 L1026.89,1610.23 L1024.39,1611.14 L1021.88,1612.06 L1019.38,1612.99 L1016.88,1613.92 L1014.37,1614.85 L1011.87,1615.79 L1009.37,1616.74 L1006.86,1617.69 L1004.36,1618.64 L1001.86,1619.60 L999.35,1620.57 L996.85,1621.53 L994.35,1622.51 L991.84,1623.49 L989.34,1624.47 L986.84,1625.46 L984.33,1626.45 L981.83,1627.45 L979.33,1628.45 L976.82,1629.45 L974.32,1630.46 L971.82,1631.47 L969.31,1632.48 L966.81,1633.50 L964.31,1634.53 L961.80,1635.55 L959.30,1636.58 L956.80,1637.61 L954.29,1638.65 L951.79,1639.69 L949.29,1640.73 L946.78,1641.78 L944.28,1642.82 L941.78,1643.87 L939.27,1644.93 L936.77,1645.98 L934.27,1647.04 L931.76,1648.10 L929.26,1649.16 L926.76,1650.23 L924.25,1651.30 L921.75,1652.36 L919.25,1653.44 L916.75,1654.51 L914.24,1655.58 L911.74,1656.66 L909.24,1657.74 L906.73,1658.82 L904.23,1659.90 L901.73,1660.98 L899.22,1662.06 L896.72,1663.15 L894.22,1664.23 L891.71,1665.32 L889.21,1666.41 L886.71,1667.49 L884.20,1668.58 L881.70,1669.67 L879.20,1670.76 L876.69,1671.85 L874.19,1672.94 L871.69,1674.03 L869.18,1675.12 L866.68,1676.22 L864.18,1677.31 L861.67,1678.40 L859.17,1679.49 L856.67,1680.58 L854.16,1681.67 L851.66,1682.76 L849.16,1683.85 L846.65,1684.93 L844.15,1686.02 L841.65,1687.11 L839.14,1688.19 L836.64,1689.28 L834.14,1690.36 L831.63,1691.44 L829.13,1692.53 L826.63,1693.61 L824.12,1694.68 L821.62,1695.76 L819.12,1696.84 L816.61,1697.91 L814.11,1698.98 L811.61,1700.05 L809.10,1701.12 L806.60,1702.18 Z" fill="rgb(13,138,238)" fill-opacity="0.400"/>
<path d="M806.60,1646.80 L1262.20,1526.50" fill="none" stroke="#000" stroke-width="4.60" stroke-linejoin="round"/>
<g stroke="rgb(40,140,225)" stroke-opacity="0.72" stroke-width="2.10" stroke-dasharray="2.10 2.34"><line x1="1052.95" y1="1441.15" x2="1143.86" y2="1441.15"/><line x1="1052.95" y1="1450.24" x2="1143.86" y2="1450.24"/><line x1="1052.95" y1="1459.33" x2="1143.86" y2="1459.33"/><line x1="1052.95" y1="1468.42" x2="1143.86" y2="1468.42"/><line x1="1052.95" y1="1477.51" x2="1143.86" y2="1477.51"/><line x1="1052.95" y1="1486.60" x2="1143.86" y2="1486.60"/><line x1="1052.95" y1="1495.69" x2="1143.86" y2="1495.69"/><line x1="1052.95" y1="1504.78" x2="1143.86" y2="1504.78"/><line x1="1052.95" y1="1513.87" x2="1143.86" y2="1513.87"/><line x1="1052.95" y1="1522.96" x2="1143.86" y2="1522.96"/><line x1="1052.95" y1="1532.05" x2="1143.86" y2="1532.05"/><line x1="1052.95" y1="1541.14" x2="1143.86" y2="1541.14"/><line x1="1052.95" y1="1550.23" x2="1143.86" y2="1550.23"/><line x1="1052.95" y1="1559.32" x2="1143.86" y2="1559.32"/><line x1="1052.95" y1="1568.41" x2="1143.86" y2="1568.41"/><line x1="1052.95" y1="1577.50" x2="1143.86" y2="1577.50"/><line x1="1052.95" y1="1586.59" x2="1143.86" y2="1586.59"/><line x1="1052.95" y1="1595.68" x2="1143.86" y2="1595.68"/><line x1="1052.95" y1="1604.77" x2="1143.86" y2="1604.77"/><line x1="1052.95" y1="1613.86" x2="1143.86" y2="1613.86"/><line x1="1052.95" y1="1622.95" x2="1143.86" y2="1622.95"/><line x1="1052.95" y1="1632.04" x2="1143.86" y2="1632.04"/><line x1="1052.95" y1="1641.13" x2="1143.86" y2="1641.13"/><line x1="1052.95" y1="1650.22" x2="1143.86" y2="1650.22"/><line x1="1052.95" y1="1659.31" x2="1143.86" y2="1659.31"/><line x1="1052.95" y1="1668.40" x2="1143.86" y2="1668.40"/><line x1="1052.95" y1="1677.49" x2="1143.86" y2="1677.49"/><line x1="1052.95" y1="1686.58" x2="1143.86" y2="1686.58"/><line x1="1052.95" y1="1695.67" x2="1143.86" y2="1695.67"/><line x1="1052.95" y1="1704.76" x2="1143.86" y2="1704.76"/><line x1="1052.95" y1="1713.85" x2="1143.86" y2="1713.85"/></g>
</g>
<rect x="764.50" y="1436.30" width="535.00" height="278.50" fill="none" stroke="#000" stroke-width="2.10"/>
<g stroke="#000" stroke-width="1.6"><line x1="758.50" y1="1483.00" x2="764.50" y2="1483.00"/><line x1="758.50" y1="1544.10" x2="764.50" y2="1544.10"/><line x1="758.50" y1="1605.70" x2="764.50" y2="1605.70"/><line x1="758.50" y1="1667.10" x2="764.50" y2="1667.10"/><line x1="788.60" y1="1714.80" x2="788.60" y2="1720.80"/><line x1="921.10" y1="1714.80" x2="921.10" y2="1720.80"/><line x1="1053.90" y1="1714.80" x2="1053.90" y2="1720.80"/><line x1="1186.40" y1="1714.80" x2="1186.40" y2="1720.80"/></g>
<text x="735.85" y="1491.80" font-size="28.20" text-anchor="middle">30</text>
<text x="735.85" y="1552.90" font-size="28.20" text-anchor="middle">20</text>
<text x="735.85" y="1614.50" font-size="28.20" text-anchor="middle">10</text>
<text x="739.15" y="1675.90" font-size="28.20" text-anchor="middle">0</text>
<text transform="translate(703.50,1583.30) rotate(-90)" x="0" y="0" font-size="27.00" text-anchor="middle" textLength="157.5" lengthAdjust="spacingAndGlyphs">THg (mg kg<tspan font-size="15.7" dy="-10">-1</tspan><tspan dy="10">)</tspan></text>
<text x="776.00" y="1467.00" font-size="19.80"><tspan font-style="italic">n</tspan> = 22</text>
</g>
<text x="122.90" y="1749.30" font-size="28.20" text-anchor="middle">90</text>
<text x="259.20" y="1749.30" font-size="28.20" text-anchor="middle">120</text>
<text x="391.50" y="1749.30" font-size="28.20" text-anchor="middle">150</text>
<text x="523.40" y="1749.30" font-size="28.20" text-anchor="middle">180</text>
<text x="786.80" y="1747.50" font-size="28.20" text-anchor="middle">90</text>
<text x="922.30" y="1747.50" font-size="28.20" text-anchor="middle">120</text>
<text x="1054.30" y="1747.50" font-size="28.20" text-anchor="middle">150</text>
<text x="1186.90" y="1747.50" font-size="28.20" text-anchor="middle">180</text>
<text x="590.10" y="1793.10" font-size="27.00" text-anchor="start" textLength="204" lengthAdjust="spacingAndGlyphs">Total length (cm)</text>
</svg></body></html>
